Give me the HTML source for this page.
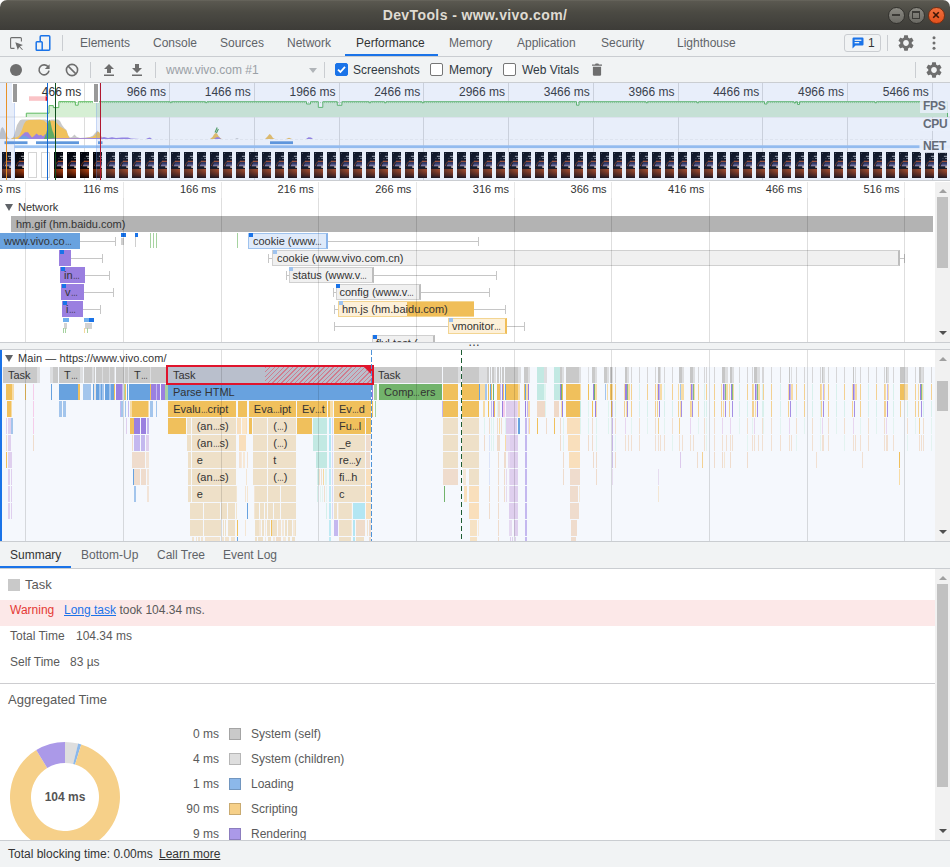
<!DOCTYPE html>
<html><head><meta charset="utf-8"><title>DevTools - www.vivo.com/</title>
<style>
*{box-sizing:border-box;margin:0;padding:0}
html,body{width:950px;height:867px;overflow:hidden;background:#fff}
body{font-family:"Liberation Sans",sans-serif;font-size:12px;color:#303942;position:relative}
.a{position:absolute}
.a>span,.lb{white-space:nowrap}
#titlebar{left:0;top:0;width:950px;height:30px;background:linear-gradient(#6a685f 0,#5a5850 1.5px,#4b4a43 40%,#3d3c38 100%);border-radius:7px 7px 0 0}
#titlebar .t{position:absolute;left:0;width:950px;top:7px;text-align:center;color:#dfdbd2;font-weight:bold;font-size:14px;letter-spacing:.4px}
.wb{position:absolute;top:6.5px;width:17px;height:17px;border-radius:50%;background:linear-gradient(#8a8982,#6a6963);border:1px solid #33322e}
#tabbar{left:0;top:30px;width:950px;height:27px;background:#f1f3f4;border-bottom:1px solid #cacdd1}
.tab{position:absolute;top:36px;font-size:12px;color:#5f6368;white-space:nowrap;line-height:14px}
#toolbar{left:0;top:57px;width:950px;height:26px;background:#f1f3f4;border-bottom:1px solid #cacdd1}
.vsep{position:absolute;width:1px;background:#cacdd1}
.tl{position:absolute;font-size:12px;line-height:14px;white-space:nowrap;color:#303942}
.cb{position:absolute;width:13px;height:13px;border:1px solid #767676;border-radius:2px;background:#fff}
svg{position:absolute;overflow:visible}

#ov{left:0;top:83px;width:950px;height:98px;background:#fff;border-bottom:1px solid #cacdd1;overflow:hidden}
.ovl{position:absolute;top:2px;font-size:12px;line-height:14px;color:#333;white-space:nowrap;text-align:right;width:60px}
.ovlab{position:absolute;font-size:12px;line-height:12px;color:#656c78;font-weight:bold;background:rgba(233,239,250,.85);padding:0 2px 0 3px;left:920px;width:30px;letter-spacing:-.3px}

#ruler{left:0;top:182px;width:935px;height:16px;background:#fff;overflow:hidden}
.rl{position:absolute;top:-0.5px;font-size:11px;line-height:14px;color:#333;white-space:nowrap;text-align:right;width:60px}
#net{left:0;top:198px;width:935px;height:144px;background:#fff;overflow:hidden}
.nb{position:absolute;height:16px;font-size:11px;line-height:17px;color:#333;white-space:nowrap;overflow:hidden;padding-left:5px}
.wh{position:absolute;height:1px;background:#c6c6c6}
.wt{position:absolute;width:1px;height:9px;background:#c6c6c6}
.pr{position:absolute;width:4px;height:4px}
.sb{position:absolute;left:935px;width:15px;background:#f1f1f1}
.sbt{position:absolute;left:2px;width:11px;background:#c1c1c1}
.gl{position:absolute;width:1px;background:rgba(0,0,0,.13)}
#rsz{left:0;top:342px;width:950px;height:8px;background:#f1f3f4;border-top:1px solid #cacdd1;border-bottom:1px solid #cacdd1}

#main{left:0;top:350px;width:935px;height:191px;background:#f5f8fd;overflow:hidden}
#main .hd{position:absolute;left:0;top:0;width:935px;height:17px;background:#fff}
.b{position:absolute;height:16px;font-size:11px;line-height:17px;color:#333;white-space:nowrap;overflow:hidden;padding-left:5px}
.e{display:inline-block;width:6.8px;transform:scaleX(.62);transform-origin:0 50%}

#stabs{left:0;top:541px;width:950px;height:28px;background:#f1f3f4;border-top:1px solid #cacdd1;border-bottom:1px solid #cacdd1}
.st{position:absolute;top:548px;font-size:12px;line-height:14px;color:#5f6368;white-space:nowrap}
#foot{left:0;top:840px;width:950px;height:27px;background:#f1f3f4;border-top:1px solid #cacdd1}
.sm{position:absolute;font-size:12px;line-height:14px;white-space:nowrap;color:#5a5a5a}
.sw{position:absolute;width:12px;height:12px;border:1px solid rgba(0,0,0,.18)}
</style></head><body>
<div id="titlebar" class="a"><div class="t">DevTools - www.vivo.com/</div>
<div class="wb" style="left:888px"><i class="a" style="left:3px;top:6px;width:8px;height:2px;background:#3b3a36"></i></div>
<div class="wb" style="left:908px"><i class="a" style="left:3px;top:3px;width:8px;height:8px;border:1px solid #3b3a36;border-top-width:2px"></i></div>
<div class="wb" style="left:928px;background:linear-gradient(#f0703e,#e2501c);border-color:#7a2d10"><svg width="14" height="14" style="left:0;top:0" viewBox="0 0 14 14"><path d="M4.2 4.2L9.8 9.8M9.8 4.2L4.2 9.8" stroke="#3b1608" stroke-width="1.6" fill="none"/></svg></div>
</div>
<div id="tabbar" class="a"></div>
<svg width="16" height="16" style="left:8px;top:35px" viewBox="0 0 16 16"><path d="M6.5 13.4H3.6Q2.6 13.4 2.6 12.4V3.6Q2.6 2.6 3.6 2.6H12.4Q13.4 2.6 13.4 3.6V6.5" fill="none" stroke="#6e6e6e" stroke-width="1.1"/><path d="M7.3 7.3L14.9 9.9L11.9 11.4L14.9 14.4L14.2 15.1L11.2 12.1L9.8 15Z" fill="#6e6e6e"/></svg>
<svg width="16" height="16" style="left:35px;top:35px" viewBox="0 0 16 16"><rect x="5.2" y="0.8" width="9.6" height="14.4" rx="1" fill="none" stroke="#1a73e8" stroke-width="1.5"/><rect x="1.2" y="6.8" width="6" height="8.4" rx="0.8" fill="#f1f3f4" stroke="#1a73e8" stroke-width="1.5"/></svg>
<div class="vsep" style="left:62px;top:35px;height:16px"></div>
<span class="tab" style="left:80px">Elements</span>
<span class="tab" style="left:153px">Console</span>
<span class="tab" style="left:220px">Sources</span>
<span class="tab" style="left:287px">Network</span>
<span class="tab" style="left:356px;color:#333">Performance</span>
<span class="tab" style="left:449px">Memory</span>
<span class="tab" style="left:517px">Application</span>
<span class="tab" style="left:601px">Security</span>
<span class="tab" style="left:677px">Lighthouse</span>
<div class="a" style="left:345px;top:54px;width:93px;height:2px;background:#1a73e8"></div>
<div class="a" style="left:844px;top:34px;width:37px;height:18px;border:1px solid #cacdd1;border-radius:3px;background:#f1f3f4"></div>
<svg width="12" height="12" style="left:852px;top:37px" viewBox="0 0 12 12"><path d="M1.6 0.5H10.4Q11.5 0.5 11.5 1.6V7.4Q11.5 8.5 10.4 8.5H3.5L0.5 11.5V1.6Q0.5 0.5 1.6 0.5Z" fill="#1a73e8"/><rect x="2.6" y="2.6" width="6.8" height="1.3" fill="#f1f3f4"/><rect x="2.6" y="5" width="4.6" height="1.3" fill="#f1f3f4"/></svg>
<span class="tl" style="left:868px;top:36px;color:#333">1</span>
<div class="vsep" style="left:887px;top:35px;height:16px"></div>
<svg width="16" height="16" style="left:898px;top:35px" viewBox="2 2 20 20"><path d="M19.14 12.94c.04-.3.06-.61.06-.94 0-.32-.02-.64-.07-.94l2.03-1.58c.18-.14.23-.41.12-.61l-1.92-3.32c-.12-.22-.37-.29-.59-.22l-2.39.96c-.5-.38-1.03-.7-1.62-.94l-.36-2.54c-.04-.24-.24-.41-.48-.41h-3.84c-.24 0-.43.17-.47.41l-.36 2.54c-.59.24-1.13.57-1.62.94l-2.39-.96c-.22-.08-.47 0-.59.22L2.74 8.87c-.12.21-.08.47.12.61l2.03 1.58c-.05.3-.09.63-.09.94s.02.64.07.94l-2.03 1.58c-.18.14-.23.41-.12.61l1.92 3.32c.12.22.37.29.59.22l2.39-.96c.5.38 1.03.7 1.62.94l.36 2.54c.05.24.24.41.48.41h3.84c.24 0 .44-.17.47-.41l.36-2.54c.59-.24 1.13-.56 1.62-.94l2.39.96c.22.08.47 0 .59-.22l1.92-3.32c.12-.22.07-.47-.12-.61l-2.01-1.58zM12 15.6c-1.98 0-3.6-1.62-3.6-3.6s1.62-3.6 3.6-3.6 3.6 1.62 3.6 3.6-1.62 3.6-3.6 3.6z" fill="#6e6e6e"/></svg>
<svg width="4" height="14" style="left:932px;top:36px" viewBox="0 0 4 14"><circle cx="2" cy="1.7" r="1.5" fill="#6e6e6e"/><circle cx="2" cy="7" r="1.5" fill="#6e6e6e"/><circle cx="2" cy="12.3" r="1.5" fill="#6e6e6e"/></svg>
<div id="toolbar" class="a"></div>
<div class="a" style="left:10px;top:64px;width:12px;height:12px;border-radius:50%;background:#6e6e6e"></div>
<svg width="14" height="14" style="left:37px;top:63px" viewBox="0 0 14 14"><path d="M11.3 4.2A5 5 0 1 0 12 7.6" fill="none" stroke="#6e6e6e" stroke-width="1.6"/><path d="M12.6 1.2V6H7.8Z" fill="#6e6e6e"/></svg>
<svg width="14" height="14" style="left:65px;top:63px" viewBox="0 0 14 14"><circle cx="7" cy="7" r="5.6" fill="none" stroke="#6e6e6e" stroke-width="1.6"/><path d="M3.1 3.1L10.9 10.9" stroke="#6e6e6e" stroke-width="1.6"/></svg>
<div class="vsep" style="left:90px;top:62px;height:16px"></div>
<svg width="12" height="12" style="left:103px;top:64px" viewBox="0 0 12 12"><path d="M6 0L11 5H8V9H4V5H1Z" fill="#6e6e6e"/><rect x="1" y="10.5" width="10" height="1.5" fill="#6e6e6e"/></svg>
<svg width="12" height="12" style="left:131px;top:64px" viewBox="0 0 12 12"><path d="M6 9L11 4H8V0H4V4H1Z" fill="#6e6e6e"/><rect x="1" y="10.5" width="10" height="1.5" fill="#6e6e6e"/></svg>
<div class="vsep" style="left:155px;top:62px;height:16px"></div>
<span class="tl" style="left:166px;top:63px;color:#9aa0a6">www.vivo.com #1</span>
<svg width="8" height="5" style="left:309px;top:68px" viewBox="0 0 8 5"><path d="M0 0H8L4 5Z" fill="#b0b4b8"/></svg>
<div class="vsep" style="left:324px;top:62px;height:16px"></div>
<div class="cb" style="left:335px;top:63px;background:#1a73e8;border-color:#1a73e8"><svg width="11" height="11" style="left:0;top:0" viewBox="0 0 11 11"><path d="M2 5.6L4.4 8L9 2.8" fill="none" stroke="#fff" stroke-width="1.8"/></svg></div>
<span class="tl" style="left:353px;top:63px">Screenshots</span>
<div class="cb" style="left:430px;top:63px"></div>
<span class="tl" style="left:449px;top:63px">Memory</span>
<div class="cb" style="left:503px;top:63px"></div>
<span class="tl" style="left:522px;top:63px">Web Vitals</span>
<svg width="10" height="13" style="left:592px;top:63px" viewBox="0 0 10 13"><path d="M0 1.4H3L3.7 0.4H6.3L7 1.4H10V2.8H0Z" fill="#6e6e6e"/><path d="M0.9 3.8H9.1V11.6Q9.1 12.8 7.9 12.8H2.1Q0.9 12.8 0.9 11.6Z" fill="#6e6e6e"/></svg>
<div class="vsep" style="left:915px;top:62px;height:16px"></div>
<svg width="16" height="16" style="left:926px;top:62px" viewBox="2 2 20 20"><path d="M19.14 12.94c.04-.3.06-.61.06-.94 0-.32-.02-.64-.07-.94l2.03-1.58c.18-.14.23-.41.12-.61l-1.92-3.32c-.12-.22-.37-.29-.59-.22l-2.39.96c-.5-.38-1.03-.7-1.62-.94l-.36-2.54c-.04-.24-.24-.41-.48-.41h-3.84c-.24 0-.43.17-.47.41l-.36 2.54c-.59.24-1.13.57-1.62.94l-2.39-.96c-.22-.08-.47 0-.59.22L2.74 8.87c-.12.21-.08.47.12.61l2.03 1.58c-.05.3-.09.63-.09.94s.02.64.07.94l-2.03 1.58c-.18.14-.23.41-.12.61l1.92 3.32c.12.22.37.29.59.22l2.39-.96c.5.38 1.03.7 1.62.94l.36 2.54c.05.24.24.41.48.41h3.84c.24 0 .44-.17.47-.41l.36-2.54c.59-.24 1.13-.56 1.62-.94l2.39.96c.22.08.47 0 .59-.22l1.92-3.32c.12-.22.07-.47-.12-.61l-2.01-1.58zM12 15.6c-1.98 0-3.6-1.62-3.6-3.6s1.62-3.6 3.6-3.6 3.6 1.62 3.6 3.6-1.62 3.6-3.6 3.6z" fill="#6e6e6e"/></svg>
<div id="ov" class="a">
<svg width="950" height="98" style="left:0;top:0" viewBox="0 83 950 98"><defs><linearGradient id="tg" x1="0" y1="0" x2="0" y2="1"><stop offset="0" stop-color="#02040a"/><stop offset=".33" stop-color="#070a14"/><stop offset=".6" stop-color="#0e0a12"/><stop offset=".64" stop-color="#120a0c"/><stop offset=".655" stop-color="#b04410"/><stop offset=".76" stop-color="#96340c"/><stop offset=".9" stop-color="#541a06"/><stop offset="1" stop-color="#140303"/></linearGradient><linearGradient id="tsk" x1="0" y1="0" x2="0" y2="1"><stop offset="0" stop-color="#181c3c"/><stop offset=".5" stop-color="#3c3c68"/><stop offset=".8" stop-color="#8a7a98"/><stop offset="1" stop-color="#e0ccca"/></linearGradient><linearGradient id="tdk" x1="0" y1="0" x2="1" y2="0"><stop offset="0" stop-color="#000" stop-opacity=".42"/><stop offset="1" stop-color="#000" stop-opacity="0"/></linearGradient><pattern id="tp" x="2" y="152" width="13" height="26" patternUnits="userSpaceOnUse"><rect width="9" height="26" fill="url(#tg)"/><rect x="0" y="16.6" width="9" height="9.4" fill="url(#tdk)"/><path d="M4.2 10L9 10L9 14.5L2.6 14.5Z" fill="url(#tsk)"/><rect x="2" y="14.4" width="5.3" height="2.1" fill="#08080e"/><rect x="7.3" y="14.3" width="1.7" height="1.6" fill="#ecd2b8"/><rect x="4" y="8.8" width="5" height=".95" fill="#dc5f28"/><path d="M4.2 9.3Q1.6 11.4 1.4 14.4" stroke="#c8561f" stroke-width=".8" fill="none" stroke-dasharray="1 .5"/><rect x="5.9" y="3.8" width="3.1" height="1" fill="#fff" opacity=".68"/><rect x="4.5" y="5.9" width=".9" height="1" fill="#fff" opacity=".3"/><rect x="7.1" y="5.9" width="1.9" height="1" fill="#fff" opacity=".52"/><rect x="1" y="1.1" width=".8" height=".8" fill="#aab" opacity=".6"/><rect x="7.2" y="1.1" width=".8" height=".8" fill="#aab" opacity=".4"/></pattern></defs><rect x="84" y="83" width="1" height="98" fill="#dcdcdc"/><rect x="169" y="83" width="1" height="98" fill="#dcdcdc"/><rect x="254" y="83" width="1" height="98" fill="#dcdcdc"/><rect x="339" y="83" width="1" height="98" fill="#dcdcdc"/><rect x="423" y="83" width="1" height="98" fill="#dcdcdc"/><rect x="508" y="83" width="1" height="98" fill="#dcdcdc"/><rect x="593" y="83" width="1" height="98" fill="#dcdcdc"/><rect x="678" y="83" width="1" height="98" fill="#dcdcdc"/><rect x="762" y="83" width="1" height="98" fill="#dcdcdc"/><rect x="847" y="83" width="1" height="98" fill="#dcdcdc"/><rect x="932" y="83" width="1" height="98" fill="#dcdcdc"/><rect x="0" y="116.5" width="950" height="1" fill="#e4e4e4"/><path d="M26.3 117.0 L26.3 113.2 L49.0 113.2 L49.0 105.6 L53.3 105.6 L53.3 107.6 L58.8 107.6 L58.8 101.6 L75.4 101.7 L75.4 105.2 L78.2 105.2 L78.2 101.7 L170.2 101.7 L170.2 102.7 L171.4 102.7 L171.4 101.7 L205.5 101.7 L205.5 102.7 L207.0 102.7 L207.0 101.7 L306.5 101.7 L306.5 104.0 L310.5 104.0 L310.5 101.7 L318.3 101.7 L318.3 107.4 L322.8 107.4 L322.8 101.7 L337.3 101.7 L337.3 105.3 L341.9 105.3 L341.9 101.7 L369.2 101.7 L369.2 102.8 L370.6 102.8 L370.6 101.7 L384.5 101.7 L384.5 102.8 L386.0 102.8 L386.0 101.7 L422.0 101.7 L422.0 102.8 L423.6 102.8 L423.6 101.7 L576.5 101.7 L576.5 105.2 L579.0 105.2 L579.0 101.7 L646.0 101.7 L646.0 102.8 L647.4 102.8 L647.4 101.7 L697.0 101.7 L697.0 102.8 L698.6 102.8 L698.6 101.7 L764.5 101.7 L764.5 104.0 L767.0 104.0 L767.0 101.7 L794.0 101.7 L794.0 103.0 L795.5 103.0 L795.5 101.7 L797.5 101.7 L797.5 104.5 L799.5 104.5 L799.5 101.7 L875.0 101.7 L875.0 102.8 L876.4 102.8 L876.4 101.7 L947.5 101.7 L947.5 117.0 Z" fill="#d6efd4" stroke="none"/><path d="M26.3 117.0 L26.3 113.2 L49.0 113.2 L49.0 105.6 L53.3 105.6 L53.3 107.6 L58.8 107.6 L58.8 101.6 L75.4 101.7 L75.4 105.2 L78.2 105.2 L78.2 101.7 L170.2 101.7 L170.2 102.7 L171.4 102.7 L171.4 101.7 L205.5 101.7 L205.5 102.7 L207.0 102.7 L207.0 101.7 L306.5 101.7 L306.5 104.0 L310.5 104.0 L310.5 101.7 L318.3 101.7 L318.3 107.4 L322.8 107.4 L322.8 101.7 L337.3 101.7 L337.3 105.3 L341.9 105.3 L341.9 101.7 L369.2 101.7 L369.2 102.8 L370.6 102.8 L370.6 101.7 L384.5 101.7 L384.5 102.8 L386.0 102.8 L386.0 101.7 L422.0 101.7 L422.0 102.8 L423.6 102.8 L423.6 101.7 L576.5 101.7 L576.5 105.2 L579.0 105.2 L579.0 101.7 L646.0 101.7 L646.0 102.8 L647.4 102.8 L647.4 101.7 L697.0 101.7 L697.0 102.8 L698.6 102.8 L698.6 101.7 L764.5 101.7 L764.5 104.0 L767.0 104.0 L767.0 101.7 L794.0 101.7 L794.0 103.0 L795.5 103.0 L795.5 101.7 L797.5 101.7 L797.5 104.5 L799.5 104.5 L799.5 101.7 L875.0 101.7 L875.0 102.8 L876.4 102.8 L876.4 101.7 L947.5 101.7 L947.5 117.0" fill="none" stroke="#5fba62" stroke-width="1"/><path d="M60 102.6H920" fill="none" stroke="#5fba62" stroke-width="1" stroke-dasharray=".7 1.3" opacity=".75"/><path d="M0.0 139 L0.0 133.0 L1.0 128.5 L2.5 127.0 L4.0 129.0 L6.0 134.0 L8.0 138.0 L10.0 139.0 L13.0 138.0 L14.5 134.0 L17.0 125.0 L20.0 120.2 L22.0 119.4 L46.0 119.4 L48.0 121.0 L51.0 119.4 L58.0 119.6 L60.0 121.0 L62.0 125.0 L64.5 128.2 L66.5 130.0 L68.0 135.0 L70.0 137.5 L72.0 137.0 L74.5 134.5 L76.5 136.8 L80.0 138.0 L86.0 137.5 L90.0 137.0 L93.0 135.5 L95.0 133.0 L97.5 130.6 L99.5 134.0 L102.0 137.5 L106.0 138.5 L106.0 139 Z" fill="#c9c9c9"/><path d="M11.0 139 L11.0 139.0 L13.0 137.5 L16.0 137.5 L19.0 136.0 L21.5 131.0 L24.0 124.0 L26.0 121.0 L29.0 120.0 L40.0 119.8 L44.0 120.5 L46.5 123.0 L49.0 121.0 L53.0 120.6 L55.5 121.5 L57.5 124.0 L60.0 126.5 L62.5 128.0 L65.0 129.5 L66.5 131.0 L68.0 135.5 L69.5 138.0 L75.0 138.3 L85.0 138.0 L92.0 137.2 L95.0 135.2 L97.0 132.3 L99.0 131.8 L100.5 135.0 L102.0 138.0 L104.0 139.0 L104.0 139 Z" fill="#f0c15c"/><path d="M18.0 139 L18.0 139.0 L20.0 137.0 L22.5 134.5 L25.0 132.2 L28.0 132.3 L30.0 135.0 L32.0 137.4 L34.0 136.0 L36.5 133.6 L39.0 135.5 L41.0 134.8 L43.0 136.4 L45.0 134.5 L46.5 133.5 L48.0 139.0 L48.0 139 Z" fill="#9b82e3"/><path d="M19.0 139 L19.0 139.0 L21.0 137.0 L23.0 135.8 L26.0 136.0 L28.0 137.6 L30.0 139.0 L30.0 139 Z" fill="#6fa2e2"/><path d="M44.0 139 L44.0 139.0 L46.0 134.0 L47.5 128.0 L48.5 121.0 L49.5 119.6 L50.5 122.0 L51.5 127.0 L52.5 131.0 L53.5 133.0 L55.0 139.0 L55.0 139 Z" fill="#62ab63"/><path d="M48.0 139 L48.0 139.0 L55.0 138.2 L70.0 138.2 L100.0 138.0 L104.0 137.0 L108.0 138.0 L112.0 137.2 L116.0 138.0 L122.0 137.6 L128.0 137.4 L131.0 138.4 L140.0 139.0 L140.0 139 Z" fill="#9b82e3"/><path d="M146.0 139 L146.0 139.0 L148.0 138.0 L150.0 137.5 L152.0 139.0 L152.0 139 Z" fill="#9b82e3"/><path d="M210.0 139 L210.0 139.0 L212.5 137.0 L214.0 134.5 L215.5 133.0 L217.0 133.6 L218.5 136.0 L220.5 138.2 L222.0 139.0 L222.0 139 Z" fill="#f0c15c"/><path d="M214.0 139 L214.0 139.0 L216.0 137.6 L218.0 137.0 L220.0 138.0 L221.0 139.0 L221.0 139 Z" fill="#9b82e3"/><path d="M215 132.5L217.2 127.5M216.4 133L218.4 129" stroke="#4d9e55" stroke-width="1.1"/><path d="M265.0 139 L265.0 139.0 L267.5 136.5 L269.5 134.0 L271.0 135.0 L273.0 138.0 L275.0 139.0 L275.0 139 Z" fill="#f0c15c"/><path d="M286.0 139 L286.0 139.0 L289.0 137.8 L292.0 139.0 L292.0 139 Z" fill="#f0c15c"/><path d="M306.0 139 L306.0 139.0 L308.5 137.3 L311.0 137.6 L313.0 139.0 L313.0 139 Z" fill="#9b82e3"/><path d="M235.0 139 L235.0 139.0 L237.0 138.0 L239.0 139.0 L239.0 139 Z" fill="#c9c9c9"/><path d="M100 139.5H934" stroke="#c8c8c8" stroke-width="1" stroke-dasharray="3 2" opacity=".2"/><rect x="4.5" y="141.3" width="23" height="2.8" fill="#5f98dc"/><rect x="36" y="141.3" width="43" height="2.8" fill="#5f98dc"/><rect x="98" y="141.3" width="4.5" height="2.8" fill="#5f98dc"/><rect x="270" y="141.3" width="23" height="2.8" fill="#5f98dc"/><rect x="14.5" y="145.3" width="904.5" height="2.8" fill="#9cc3f3"/><rect x="919" y="145.3" width="31" height="2.8" fill="#9cc3f3" opacity=".5"/><rect x="2" y="152" width="946" height="26" fill="url(#tp)"/><rect x="27" y="151.5" width="10" height="27" fill="#fff"/><rect x="28.5" y="152.5" width="8" height="25" fill="#fff" stroke="#d4d4d4" stroke-width="1"/><rect x="40" y="151.5" width="10" height="27" fill="#fff"/><rect x="41.5" y="152.5" width="8" height="25" fill="#fff" stroke="#d4d4d4" stroke-width="1"/><rect x="29" y="96.3" width="17" height="4.5" fill="#fac3c6"/><rect x="45.6" y="96.3" width="1.4" height="4.5" fill="#e8102a"/></svg>
<span class="ovl" style="left:21.2px">466 ms</span>
<span class="ovl" style="left:106.0px">966 ms</span>
<span class="ovl" style="left:190.8px">1466 ms</span>
<span class="ovl" style="left:275.5px">1966 ms</span>
<span class="ovl" style="left:360.2px">2466 ms</span>
<span class="ovl" style="left:445.0px">2966 ms</span>
<span class="ovl" style="left:529.8px">3466 ms</span>
<span class="ovl" style="left:614.5px">3966 ms</span>
<span class="ovl" style="left:699.2px">4466 ms</span>
<span class="ovl" style="left:784.0px">4966 ms</span>
<span class="ovl" style="left:868.8px">5466 ms</span>
<div class="a" style="left:0;top:0;width:14.5px;height:98px;background:rgba(102,142,222,.15);border-right:1px solid rgba(120,160,235,.3)"></div>
<div class="a" style="left:96px;top:0;width:854px;height:98px;background:rgba(102,142,222,.15);border-left:1px solid rgba(120,160,235,.3)"></div>
<div class="a" style="left:12px;top:0px;width:6px;height:20px;background:#fff"></div><div class="a" style="left:13px;top:1px;width:4px;height:18px;background:#999"></div>
<div class="a" style="left:93px;top:0px;width:6px;height:20px;background:#fff"></div><div class="a" style="left:94px;top:1px;width:4px;height:18px;background:#999"></div>
<div class="a" style="left:6px;top:0;width:1px;height:98px;background:#e8922a"></div>
<div class="a" style="left:47px;top:0;width:1px;height:98px;background:#1468d2"></div>
<div class="a" style="left:55px;top:0;width:1px;height:98px;background:#114f1f"></div>
<div class="a" style="left:100px;top:0;width:1px;height:98px;background:#b01830"></div>
<span class="ovlab" style="top:17px;height:13px">FPS</span>
<span class="ovlab" style="top:35px;height:13px">CPU</span>
<span class="ovlab" style="top:57px;height:13px">NET</span>
</div>
<div id="ruler" class="a">
<span class="rl" style="left:-39.3px">66 ms</span>
<span class="rl" style="left:58.4px">116 ms</span>
<span class="rl" style="left:156.0px">166 ms</span>
<span class="rl" style="left:253.7px">216 ms</span>
<span class="rl" style="left:351.3px">266 ms</span>
<span class="rl" style="left:448.9px">316 ms</span>
<span class="rl" style="left:546.6px">366 ms</span>
<span class="rl" style="left:644.2px">416 ms</span>
<span class="rl" style="left:741.9px">466 ms</span>
<span class="rl" style="left:839.5px">516 ms</span>
<div class="gl" style="left:25px;top:0px;height:16px;background:rgba(0,0,0,.09)"></div><div class="gl" style="left:123px;top:0px;height:16px;background:rgba(0,0,0,.09)"></div><div class="gl" style="left:221px;top:0px;height:16px;background:rgba(0,0,0,.09)"></div><div class="gl" style="left:318px;top:0px;height:16px;background:rgba(0,0,0,.09)"></div><div class="gl" style="left:416px;top:0px;height:16px;background:rgba(0,0,0,.09)"></div><div class="gl" style="left:514px;top:0px;height:16px;background:rgba(0,0,0,.09)"></div><div class="gl" style="left:611px;top:0px;height:16px;background:rgba(0,0,0,.09)"></div><div class="gl" style="left:709px;top:0px;height:16px;background:rgba(0,0,0,.09)"></div><div class="gl" style="left:807px;top:0px;height:16px;background:rgba(0,0,0,.09)"></div><div class="gl" style="left:904px;top:0px;height:16px;background:rgba(0,0,0,.09)"></div>
</div>
<div id="net" class="a">
<svg width="8" height="7" style="left:5px;top:6px" viewBox="0 0 8 7"><path d="M0 0H8L4 7Z" fill="#5f6368"/></svg>
<span class="tl" style="left:18px;top:2px;color:#333;font-size:11px">Network</span>
<div class="nb" style="left:11px;top:18px;width:922px;background:#b3b3b3">hm.gif (hm.baidu.com)</div>
<div class="wh" style="left:80.0px;top:43.0px;width:34.5px"></div><div class="wt" style="left:114.5px;top:39.0px"></div>
<div class="nb" style="left:0;top:35px;width:80px;background:#69a2df;padding-left:4px">www.vivo.co<span class="e">…</span></div>
<div class="a" style="left:120.5px;top:35px;width:5.5px;height:4px;background:#1a73e8"></div><div class="a" style="left:121px;top:40px;width:3px;height:7px;background:#cfcfcf"></div>
<div class="a" style="left:134.5px;top:35px;width:3.5px;height:4px;background:#1a73e8"></div><div class="a" style="left:134.5px;top:39px;width:1px;height:10px;background:#cfcfcf"></div>
<div class="a" style="left:150px;top:35px;width:1px;height:15px;background:#a6d3a0"></div>
<div class="a" style="left:153px;top:35px;width:1px;height:15px;background:#a6d3a0"></div>
<div class="a" style="left:156px;top:35px;width:1px;height:15px;background:#a6d3a0"></div>
<div class="a" style="left:237px;top:35px;width:1px;height:15px;background:#a6d3a0"></div>
<div class="wh" style="left:70.8px;top:60.0px;width:30.9px"></div><div class="wt" style="left:101.7px;top:56.0px"></div>
<div class="nb" style="left:59.2px;top:52px;width:11.6px;background:#9a7fe0;padding-left:4px"></div>
<div class="pr" style="left:59.7px;top:52px;background:#1a73e8"></div>
<div class="wh" style="left:84.8px;top:77.0px;width:23.9px"></div><div class="wt" style="left:108.7px;top:73.0px"></div>
<div class="nb" style="left:60.0px;top:69px;width:24.8px;background:#9a7fe0;padding-left:4px">in<span class="e">…</span></div>
<div class="pr" style="left:60.5px;top:69px;background:#1a73e8"></div>
<div class="wh" style="left:83.9px;top:94.0px;width:28.9px"></div><div class="wt" style="left:112.8px;top:90.0px"></div>
<div class="nb" style="left:61.0px;top:86px;width:22.9px;background:#9a7fe0;padding-left:4px">v<span class="e">…</span></div>
<div class="pr" style="left:61.5px;top:86px;background:#1a73e8"></div>
<div class="wh" style="left:82.9px;top:111.0px;width:16.9px"></div><div class="wt" style="left:99.8px;top:107.0px"></div>
<div class="nb" style="left:62.1px;top:103px;width:20.8px;background:#9a7fe0;padding-left:4px">i<span class="e">…</span></div>
<div class="pr" style="left:62.6px;top:103px;background:#1a73e8"></div>
<div class="a" style="left:63.2px;top:120px;width:6px;height:3.5px;background:#6fb0ee"></div><div class="a" style="left:63.5px;top:125px;width:3px;height:6px;background:#d2d2d2"></div><div class="a" style="left:63.3px;top:130px;width:1px;height:5px;background:#a6d3a0"></div><div class="a" style="left:65.3px;top:130px;width:1px;height:5px;background:#a6d3a0"></div>
<div class="a" style="left:84.3px;top:120px;width:5px;height:3.5px;background:#6fb0ee"></div><div class="a" style="left:88.5px;top:120px;width:5.5px;height:3.5px;background:#1a73e8"></div><div class="a" style="left:84.5px;top:125px;width:7.5px;height:6px;background:#d2d2d2"></div><div class="a" style="left:84.3px;top:130px;width:1px;height:5px;background:#f3d79b"></div><div class="a" style="left:87.3px;top:130px;width:1px;height:5px;background:#a6d3a0"></div>
<div class="wh" style="left:327.0px;top:43.0px;width:151.0px"></div><div class="wt" style="left:478.0px;top:39.0px"></div>
<div class="nb" style="left:248px;top:35px;width:79.5px;background:#dfeafa;border:1px solid #9fc3ee;border-right:2px solid #8ab4ea;line-height:15px;padding-left:4px">cookie (www<span class="e">…</span></div>
<div class="pr" style="left:248.5px;top:35px;background:#1a73e8"></div>
<div class="wh" style="left:268.0px;top:60.0px;width:4.0px"></div><div class="wt" style="left:268.0px;top:56.0px"></div>
<div class="wh" style="left:899.0px;top:60.0px;width:4.5px"></div><div class="wt" style="left:903.5px;top:56.0px"></div>
<div class="nb" style="left:272px;top:52px;width:627.5px;background:#f0f0f0;border:1px solid #d0d0d0;border-right:2px solid #bdbdbd;line-height:15px;padding-left:4px">cookie (www.vivo.com.cn)</div>
<div class="pr" style="left:272.5px;top:52px;background:#9fc3ee"></div>
<div class="wh" style="left:286.0px;top:77.0px;width:2.5px"></div><div class="wt" style="left:286.0px;top:73.0px"></div>
<div class="wh" style="left:373.5px;top:77.0px;width:122.0px"></div><div class="wt" style="left:495.5px;top:73.0px"></div>
<div class="nb" style="left:288.5px;top:69px;width:85px;background:#f0f0f0;border:1px solid #d0d0d0;border-right:2px solid #bdbdbd;line-height:15px;padding-left:3px">status (www.v<span class="e">…</span></div>
<div class="pr" style="left:289px;top:69px;background:#9fc3ee"></div>
<div class="wh" style="left:332.5px;top:94.0px;width:3.0px"></div><div class="wt" style="left:332.5px;top:90.0px"></div>
<div class="wh" style="left:420.5px;top:94.0px;width:68.0px"></div><div class="wt" style="left:488.5px;top:90.0px"></div>
<div class="nb" style="left:335.5px;top:86px;width:85px;background:#f0f0f0;border:1px solid #d0d0d0;border-right:2px solid #bdbdbd;line-height:15px;padding-left:3px">config (www.v<span class="e">…</span></div>
<div class="pr" style="left:336px;top:86px;background:#1a73e8"></div>
<div class="wh" style="left:333.5px;top:111.0px;width:4.5px"></div><div class="wt" style="left:333.5px;top:107.0px"></div>
<div class="wh" style="left:474.0px;top:111.0px;width:30.5px"></div><div class="wt" style="left:504.5px;top:107.0px"></div>
<div class="nb" style="left:338px;top:103px;width:136px;background:linear-gradient(90deg,#fdf0d8 0,#fdf0d8 68.5px,#f0be58 68.5px);border:1px solid #f3d592;border-right:0;line-height:15px;padding-left:3px">hm.js (hm.baidu.com)</div>
<div class="pr" style="left:338.5px;top:103px;background:#9fc3ee"></div>
<div class="wh" style="left:333.5px;top:128.0px;width:114.5px"></div><div class="wt" style="left:333.5px;top:124.0px"></div>
<div class="wh" style="left:507.0px;top:128.0px;width:16.5px"></div><div class="wt" style="left:523.5px;top:124.0px"></div>
<div class="nb" style="left:448px;top:120px;width:59px;background:#fdf0d8;border:1px solid #f3d592;border-right:2px solid #f0be58;line-height:15px;padding-left:3px">vmonitor<span class="e">…</span></div>
<div class="pr" style="left:448.5px;top:120px;background:#9fc3ee"></div>
<div class="wh" style="left:365.0px;top:145.0px;width:7.0px"></div>
<div class="wh" style="left:435.0px;top:145.0px;width:56.0px"></div>
<div class="nb" style="left:372px;top:137px;width:62.5px;background:#f0f0f0;border:1px solid #d0d0d0;border-right:2px solid #bdbdbd;line-height:15px;padding-left:3px">fly! test (<span class="e">…</span></div>
<div class="pr" style="left:372.5px;top:137px;background:#1a73e8"></div>
<div class="gl" style="left:25px;top:0px;height:144px"></div><div class="gl" style="left:123px;top:0px;height:144px"></div><div class="gl" style="left:221px;top:0px;height:144px"></div><div class="gl" style="left:318px;top:0px;height:144px"></div><div class="gl" style="left:416px;top:0px;height:144px"></div><div class="gl" style="left:514px;top:0px;height:144px"></div><div class="gl" style="left:611px;top:0px;height:144px"></div><div class="gl" style="left:709px;top:0px;height:144px"></div><div class="gl" style="left:807px;top:0px;height:144px"></div><div class="gl" style="left:904px;top:0px;height:144px"></div>
</div>
<div class="sb" style="top:182px;height:160px"><div class="sbt" style="top:15px;height:71px"></div><svg width="8" height="4" style="left:4px;top:7px" viewBox="0 0 8 4"><path d="M0 4L4 0L8 4Z" fill="#a0a0a0"/></svg><svg width="8" height="4" style="left:4px;top:149px" viewBox="0 0 8 4"><path d="M0 0L4 4L8 0Z" fill="#505050"/></svg></div>
<div id="rsz" class="a"><span class="a" style="left:468px;top:-7px;font-size:12px;line-height:12px;color:#333;letter-spacing:0px">…</span></div>
<div id="main" class="a"><div class="hd"></div>
<svg width="8" height="7" style="left:5px;top:5px" viewBox="0 0 8 7"><path d="M0 0H8L4 7Z" fill="#5f6368"/></svg>
<span class="tl" style="left:18px;top:1px;color:#333;font-size:11px;letter-spacing:.07px">Main — https://www.vivo.com/</span>
<div class="b" style="left:3.0px;top:17px;width:34.0px;height:16px;background:#c9c9c9"> Task</div><i class="a" style="left:37.0px;top:17px;width:3.0px;height:16px;background:#dddee0"></i><i class="a" style="left:50.0px;top:17px;width:2.5px;height:16px;background:#dddee0"></i><i class="a" style="left:52.5px;top:17px;width:5.5px;height:16px;background:#c9c9c9"></i><div class="b" style="left:59.0px;top:17px;width:20.6px;height:16px;background:#c9c9c9">T<span class="e">…</span></div><i class="a" style="left:79.6px;top:17px;width:3.4px;height:16px;background:#dddee0"></i><i class="a" style="left:84.0px;top:17px;width:8.2px;height:16px;background:#c9c9c9"></i><i class="a" style="left:92.2px;top:17px;width:1.8px;height:16px;background:#dddee0"></i><i class="a" style="left:94.2px;top:17px;width:0.7px;height:16px;background:#c9c9c9"></i><i class="a" style="left:96.0px;top:17px;width:3.5px;height:16px;background:#c9c9c9"></i><i class="a" style="left:99.5px;top:17px;width:0.5px;height:16px;background:#dddee0"></i><i class="a" style="left:100.0px;top:17px;width:2.3px;height:16px;background:#c9c9c9"></i><i class="a" style="left:102.3px;top:17px;width:0.7px;height:16px;background:#dddee0"></i><i class="a" style="left:103.0px;top:17px;width:6.3px;height:16px;background:#c9c9c9"></i><i class="a" style="left:109.3px;top:17px;width:0.7px;height:16px;background:#dddee0"></i><i class="a" style="left:110.0px;top:17px;width:3.5px;height:16px;background:#c9c9c9"></i><i class="a" style="left:113.5px;top:17px;width:1.1px;height:16px;background:#dddee0"></i><i class="a" style="left:116.0px;top:17px;width:7.7px;height:16px;background:#c9c9c9"></i><i class="a" style="left:123.7px;top:17px;width:0.8px;height:16px;background:#dddee0"></i><i class="a" style="left:124.5px;top:17px;width:3.5px;height:16px;background:#c9c9c9"></i><i class="a" style="left:128.0px;top:17px;width:1.0px;height:16px;background:#dddee0"></i><div class="b" style="left:129.0px;top:17px;width:21.0px;height:16px;background:#c9c9c9">T<span class="e">…</span></div><i class="a" style="left:150.0px;top:17px;width:1.0px;height:16px;background:#dddee0"></i><i class="a" style="left:151.0px;top:17px;width:14.5px;height:16px;background:#c9c9c9"></i><i class="a" style="left:6.0px;top:34px;width:5.5px;height:16px;background:#f0c05c"></i><i class="a" style="left:11.5px;top:34px;width:1.0px;height:16px;background:#f7dca6"></i><i class="a" style="left:13.2px;top:34px;width:1.0px;height:16px;background:#f7dca6"></i><i class="a" style="left:24.8px;top:34px;width:1.0px;height:16px;background:#f0c05c"></i><i class="a" style="left:33.0px;top:34px;width:0.8px;height:16px;background:#f5cdea"></i><i class="a" style="left:51.0px;top:34px;width:1.0px;height:16px;background:#68a2df"></i><i class="a" style="left:59.0px;top:34px;width:18.5px;height:16px;background:#68a2df"></i><i class="a" style="left:77.5px;top:34px;width:2.0px;height:16px;background:#f0c05c"></i><i class="a" style="left:83.0px;top:34px;width:8.0px;height:16px;background:#a3c5ec"></i><i class="a" style="left:93.3px;top:34px;width:0.7px;height:16px;background:#68a2df"></i><i class="a" style="left:94.3px;top:34px;width:1.7px;height:16px;background:#e4e4e6"></i><i class="a" style="left:96.3px;top:34px;width:2.7px;height:16px;background:#68a2df"></i><i class="a" style="left:99.0px;top:34px;width:1.5px;height:16px;background:#a3c5ec"></i><i class="a" style="left:100.5px;top:34px;width:1.5px;height:16px;background:#68a2df"></i><i class="a" style="left:102.0px;top:34px;width:2.0px;height:16px;background:#a3c5ec"></i><i class="a" style="left:105.0px;top:34px;width:4.0px;height:16px;background:#68a2df"></i><i class="a" style="left:109.0px;top:34px;width:2.0px;height:16px;background:#a3c5ec"></i><i class="a" style="left:111.0px;top:34px;width:2.5px;height:16px;background:#68a2df"></i><i class="a" style="left:114.0px;top:34px;width:0.9px;height:16px;background:#f0c05c"></i><i class="a" style="left:116.0px;top:34px;width:6.0px;height:16px;background:#9a80e0"></i><i class="a" style="left:122.0px;top:34px;width:1.0px;height:16px;background:#c4b8ef"></i><i class="a" style="left:123.8px;top:34px;width:0.8px;height:16px;background:#a9d1a3"></i><i class="a" style="left:124.8px;top:34px;width:1.7px;height:16px;background:#f0c05c"></i><i class="a" style="left:127.2px;top:34px;width:0.7px;height:16px;background:#68a2df"></i><i class="a" style="left:128.7px;top:34px;width:20.9px;height:16px;background:#68a2df"></i><i class="a" style="left:150.0px;top:34px;width:0.8px;height:16px;background:#f0c05c"></i><i class="a" style="left:151.2px;top:34px;width:4.8px;height:16px;background:#9a80e0"></i><i class="a" style="left:156.0px;top:34px;width:1.0px;height:16px;background:#c4b8ef"></i><i class="a" style="left:157.0px;top:34px;width:3.2px;height:16px;background:#9a80e0"></i><i class="a" style="left:161.0px;top:34px;width:3.6px;height:16px;background:#9a80e0"></i><i class="a" style="left:165.0px;top:34px;width:3.0px;height:16px;background:#a9d1a3"></i><i class="a" style="left:6.5px;top:51px;width:4.3px;height:16px;background:#f0c05c"></i><i class="a" style="left:10.8px;top:51px;width:1.2px;height:16px;background:#f7dca6"></i><i class="a" style="left:33.0px;top:51px;width:0.8px;height:16px;background:#f5cdea"></i><i class="a" style="left:59.0px;top:51px;width:2.8px;height:16px;background:#a3c5ec"></i><i class="a" style="left:63.0px;top:51px;width:3.0px;height:16px;background:#a3c5ec"></i><i class="a" style="left:120.0px;top:51px;width:1.4px;height:16px;background:#c4b8ef"></i><i class="a" style="left:121.4px;top:51px;width:1.2px;height:16px;background:#a3c5ec"></i><i class="a" style="left:125.0px;top:51px;width:0.7px;height:16px;background:#a3c5ec"></i><i class="a" style="left:127.8px;top:51px;width:0.8px;height:16px;background:#c4b8ef"></i><i class="a" style="left:129.6px;top:51px;width:2.4px;height:16px;background:#f7dca6"></i><i class="a" style="left:132.0px;top:51px;width:15.8px;height:16px;background:#f0c05c"></i><i class="a" style="left:147.8px;top:51px;width:0.8px;height:16px;background:#f7dca6"></i><i class="a" style="left:150.0px;top:51px;width:3.0px;height:16px;background:#a3c5ec"></i><i class="a" style="left:156.0px;top:51px;width:0.8px;height:16px;background:#a3c5ec"></i><i class="a" style="left:168.0px;top:51px;width:1.4px;height:16px;background:#f0c05c"></i><i class="a" style="left:6.0px;top:68px;width:0.7px;height:16px;background:#dfcfee"></i><i class="a" style="left:8.0px;top:68px;width:2.5px;height:16px;background:#dfcfee"></i><i class="a" style="left:11.0px;top:68px;width:1.5px;height:16px;background:#a3c5ec"></i><i class="a" style="left:33.0px;top:68px;width:0.8px;height:16px;background:#f5cdea"></i><i class="a" style="left:126.0px;top:68px;width:0.7px;height:16px;background:#dfcfee"></i><i class="a" style="left:130.0px;top:68px;width:3.5px;height:16px;background:#f0c05c"></i><i class="a" style="left:134.2px;top:68px;width:6.3px;height:16px;background:#9a80e0"></i><i class="a" style="left:140.9px;top:68px;width:4.9px;height:16px;background:#9a80e0"></i><i class="a" style="left:146.5px;top:68px;width:2.0px;height:16px;background:#c4b8ef"></i><i class="a" style="left:6.0px;top:85px;width:0.7px;height:16px;background:#efdccd"></i><i class="a" style="left:8.0px;top:85px;width:2.5px;height:16px;background:#dfcfee"></i><i class="a" style="left:33.0px;top:85px;width:0.8px;height:16px;background:#efdccd"></i><i class="a" style="left:132.4px;top:85px;width:0.8px;height:16px;background:#efdccd"></i><i class="a" style="left:134.2px;top:85px;width:6.0px;height:16px;background:#c4b8ef"></i><i class="a" style="left:140.6px;top:85px;width:4.8px;height:16px;background:#c4b8ef"></i><i class="a" style="left:146.0px;top:85px;width:2.6px;height:16px;background:#dfcfee"></i><i class="a" style="left:6.0px;top:102px;width:0.8px;height:16px;background:#f0c05c"></i><i class="a" style="left:8.0px;top:102px;width:4.0px;height:16px;background:#dfcfee"></i><i class="a" style="left:132.0px;top:102px;width:8.5px;height:16px;background:#efdccd"></i><i class="a" style="left:140.9px;top:102px;width:4.6px;height:16px;background:#efdccd"></i><i class="a" style="left:146.0px;top:102px;width:3.0px;height:16px;background:#f2e4d8"></i><i class="a" style="left:8.0px;top:119px;width:1.6px;height:16px;background:#dfcfee"></i><i class="a" style="left:11.0px;top:119px;width:1.0px;height:16px;background:#dfcfee"></i><i class="a" style="left:133.0px;top:119px;width:0.8px;height:16px;background:#68a2df"></i><i class="a" style="left:134.2px;top:119px;width:6.3px;height:16px;background:#efdccd"></i><i class="a" style="left:140.9px;top:119px;width:4.7px;height:16px;background:#efdccd"></i><i class="a" style="left:147.0px;top:119px;width:2.0px;height:16px;background:#f2e4d8"></i><i class="a" style="left:8.0px;top:136px;width:1.6px;height:16px;background:#dfcfee"></i><i class="a" style="left:11.0px;top:136px;width:1.0px;height:16px;background:#dfcfee"></i><i class="a" style="left:134.0px;top:136px;width:2.0px;height:16px;background:#a3c5ec"></i><i class="a" style="left:147.0px;top:136px;width:2.0px;height:16px;background:#f2e4d8"></i><i class="a" style="left:8.0px;top:153px;width:1.6px;height:16px;background:#dfcfee"></i><i class="a" style="left:11.0px;top:153px;width:1.0px;height:16px;background:#dfcfee"></i><div class="b" style="left:168.0px;top:34px;width:202.8px;height:16px;background:#68a2df">Parse HTML</div><i class="a" style="left:372.3px;top:34px;width:1.2px;height:16px;background:#9a80e0"></i><i class="a" style="left:374.0px;top:34px;width:2.6px;height:16px;background:#a9d1a3"></i><i class="a" style="left:372.3px;top:51px;width:0.7px;height:16px;background:#f0c05c"></i><i class="a" style="left:375.0px;top:51px;width:0.8px;height:16px;background:#a9d1a3"></i><div class="b" style="left:168.2px;top:51px;width:67.9px;height:16px;background:#f0c05c">Evalu<span class="e">…</span>cript</div><i class="a" style="left:237.8px;top:51px;width:9.2px;height:16px;background:#f0c05c"></i><div class="b" style="left:248.8px;top:51px;width:47.2px;height:16px;background:#f0c05c">Eva<span class="e">…</span>ipt</div><div class="b" style="left:297.0px;top:51px;width:29.7px;height:16px;background:#f0c05c">Ev<span class="e">…</span>t</div><i class="a" style="left:328.0px;top:51px;width:2.0px;height:16px;background:#f0c05c"></i><i class="a" style="left:330.0px;top:51px;width:3.0px;height:16px;background:#f7dca6"></i><div class="b" style="left:334.0px;top:51px;width:36.8px;height:16px;background:#f0c05c">Ev<span class="e">…</span>d</div><i class="a" style="left:168.2px;top:68px;width:17.8px;height:16px;background:#f0c05c"></i><i class="a" style="left:187.3px;top:68px;width:3.3px;height:16px;background:#eee0c8"></i><div class="b" style="left:191.7px;top:68px;width:44.4px;height:16px;background:#eee0c8">(an<span class="e">…</span>s)</div><i class="a" style="left:187.3px;top:85px;width:3.3px;height:16px;background:#eee0c8"></i><div class="b" style="left:191.7px;top:85px;width:44.4px;height:16px;background:#eee0c8">(an<span class="e">…</span>s)</div><i class="a" style="left:188.2px;top:102px;width:2.8px;height:16px;background:#eee0c8"></i><div class="b" style="left:191.7px;top:102px;width:44.4px;height:16px;background:#eee0c8">e</div><i class="a" style="left:188.2px;top:119px;width:2.8px;height:16px;background:#eee0c8"></i><div class="b" style="left:191.7px;top:119px;width:44.4px;height:16px;background:#eee0c8">(an<span class="e">…</span>s)</div><i class="a" style="left:188.2px;top:136px;width:2.8px;height:16px;background:#eee0c8"></i><div class="b" style="left:191.7px;top:136px;width:43.9px;height:16px;background:#eee0c8">e</div><i class="a" style="left:236.3px;top:136px;width:1.2px;height:16px;background:#f2e6d2"></i><i class="a" style="left:190.2px;top:153px;width:12.8px;height:16px;background:#eee0c8"></i><i class="a" style="left:203.8px;top:153px;width:16.7px;height:16px;background:#eee0c8"></i><i class="a" style="left:221.3px;top:153px;width:5.9px;height:16px;background:#eee0c8"></i><i class="a" style="left:228.0px;top:153px;width:7.4px;height:16px;background:#eee0c8"></i><i class="a" style="left:236.3px;top:153px;width:1.0px;height:16px;background:#f2e6d2"></i><i class="a" style="left:190.2px;top:170px;width:12.8px;height:16px;background:#eee0c8"></i><i class="a" style="left:203.8px;top:170px;width:17.2px;height:16px;background:#eee0c8"></i><i class="a" style="left:222.5px;top:170px;width:1.0px;height:16px;background:#eee0c8"></i><i class="a" style="left:224.5px;top:170px;width:1.5px;height:16px;background:#eee0c8"></i><i class="a" style="left:228.0px;top:170px;width:7.4px;height:16px;background:#eee0c8"></i><i class="a" style="left:237.0px;top:170px;width:0.8px;height:16px;background:#f0c05c"></i><i class="a" style="left:191.5px;top:187px;width:2.5px;height:4px;background:#f1e3cf"></i><i class="a" style="left:195.5px;top:187px;width:1.0px;height:4px;background:#f1e3cf"></i><i class="a" style="left:197.5px;top:187px;width:2.0px;height:4px;background:#f1e3cf"></i><i class="a" style="left:201.0px;top:187px;width:2.0px;height:4px;background:#f1e3cf"></i><i class="a" style="left:205.0px;top:187px;width:15.0px;height:4px;background:#f1e3cf"></i><i class="a" style="left:222.0px;top:187px;width:2.0px;height:4px;background:#f1e3cf"></i><i class="a" style="left:225.0px;top:187px;width:4.0px;height:4px;background:#f1e3cf"></i><i class="a" style="left:231.0px;top:187px;width:4.0px;height:4px;background:#f1e3cf"></i><i class="a" style="left:237.0px;top:187px;width:0.8px;height:4px;background:#68a2df"></i><i class="a" style="left:237.2px;top:68px;width:4.2px;height:16px;background:#f9dfbc"></i><i class="a" style="left:241.8px;top:68px;width:3.8px;height:16px;background:#fbe6c8"></i><i class="a" style="left:246.4px;top:68px;width:1.0px;height:16px;background:#f9dfbc"></i><i class="a" style="left:239.0px;top:85px;width:6.6px;height:16px;background:#f9dfbc"></i><i class="a" style="left:239.4px;top:102px;width:1.2px;height:16px;background:#f4e3d3"></i><i class="a" style="left:241.0px;top:102px;width:1.4px;height:16px;background:#f8ead9"></i><i class="a" style="left:243.0px;top:102px;width:2.0px;height:16px;background:#f7e8d6"></i><i class="a" style="left:247.0px;top:102px;width:0.6px;height:16px;background:#f4e3d3"></i><i class="a" style="left:245.6px;top:119px;width:1.8px;height:16px;background:#f4e6d4"></i><i class="a" style="left:245.3px;top:136px;width:0.7px;height:16px;background:#f4e6d4"></i><i class="a" style="left:247.0px;top:136px;width:1.3px;height:16px;background:#f4e6d4"></i><i class="a" style="left:246.8px;top:153px;width:1.0px;height:16px;background:#68a2df"></i><i class="a" style="left:245.3px;top:170px;width:0.7px;height:16px;background:#f4e6d4"></i><i class="a" style="left:249.2px;top:68px;width:2.8px;height:16px;background:#f0c05c"></i><i class="a" style="left:253.0px;top:68px;width:14.3px;height:16px;background:#eee0c8"></i><div class="b" style="left:268.2px;top:68px;width:28.1px;height:16px;background:#eee0c8">(<span class="e">…</span>)</div><i class="a" style="left:253.0px;top:85px;width:14.3px;height:16px;background:#eee0c8"></i><div class="b" style="left:268.2px;top:85px;width:28.1px;height:16px;background:#eee0c8">(<span class="e">…</span>)</div><i class="a" style="left:253.0px;top:102px;width:14.3px;height:16px;background:#eee0c8"></i><div class="b" style="left:268.2px;top:102px;width:28.1px;height:16px;background:#eee0c8">t</div><i class="a" style="left:253.0px;top:119px;width:14.3px;height:16px;background:#eee0c8"></i><div class="b" style="left:268.2px;top:119px;width:28.1px;height:16px;background:#eee0c8">(<span class="e">…</span>)</div><i class="a" style="left:253.6px;top:136px;width:1.0px;height:16px;background:#f3e6d6"></i><i class="a" style="left:255.0px;top:136px;width:12.3px;height:16px;background:#eee0c8"></i><i class="a" style="left:268.2px;top:136px;width:12.1px;height:16px;background:#eee0c8"></i><i class="a" style="left:281.0px;top:136px;width:15.3px;height:16px;background:#eee0c8"></i><i class="a" style="left:253.6px;top:153px;width:1.0px;height:16px;background:#f3e6d6"></i><i class="a" style="left:255.0px;top:153px;width:4.3px;height:16px;background:#eee0c8"></i><i class="a" style="left:260.0px;top:153px;width:1.5px;height:16px;background:#eee0c8"></i><i class="a" style="left:262.0px;top:153px;width:1.5px;height:16px;background:#eee0c8"></i><i class="a" style="left:264.5px;top:153px;width:2.8px;height:16px;background:#eee0c8"></i><i class="a" style="left:268.0px;top:153px;width:1.5px;height:16px;background:#eee0c8"></i><i class="a" style="left:270.4px;top:153px;width:3.1px;height:16px;background:#eee0c8"></i><i class="a" style="left:274.2px;top:153px;width:6.1px;height:16px;background:#eee0c8"></i><i class="a" style="left:281.0px;top:153px;width:15.3px;height:16px;background:#eee0c8"></i><i class="a" style="left:255.0px;top:170px;width:3.6px;height:16px;background:#eee0c8"></i><i class="a" style="left:259.4px;top:170px;width:1.6px;height:16px;background:#f4e8d8"></i><i class="a" style="left:262.0px;top:170px;width:2.0px;height:16px;background:#eee0c8"></i><i class="a" style="left:264.6px;top:170px;width:1.4px;height:16px;background:#f4e8d8"></i><i class="a" style="left:267.0px;top:170px;width:3.0px;height:16px;background:#eee0c8"></i><i class="a" style="left:270.8px;top:170px;width:1.0px;height:16px;background:#f0c05c"></i><i class="a" style="left:272.4px;top:170px;width:4.6px;height:16px;background:#eee0c8"></i><i class="a" style="left:278.0px;top:170px;width:3.0px;height:16px;background:#f2e3cf"></i><i class="a" style="left:282.0px;top:170px;width:2.0px;height:16px;background:#f4e8d8"></i><i class="a" style="left:285.0px;top:170px;width:2.0px;height:16px;background:#eee0c8"></i><i class="a" style="left:288.0px;top:170px;width:4.0px;height:16px;background:#eee0c8"></i><i class="a" style="left:293.0px;top:170px;width:1.5px;height:16px;background:#f4e8d8"></i><i class="a" style="left:295.4px;top:170px;width:0.9px;height:16px;background:#eee0c8"></i><i class="a" style="left:255.0px;top:187px;width:1.5px;height:4px;background:#eee0c8"></i><i class="a" style="left:258.0px;top:187px;width:5.0px;height:4px;background:#eee0c8"></i><i class="a" style="left:265.0px;top:187px;width:1.0px;height:4px;background:#f4e8d8"></i><i class="a" style="left:268.0px;top:187px;width:3.0px;height:4px;background:#eee0c8"></i><i class="a" style="left:273.0px;top:187px;width:2.0px;height:4px;background:#f4e8d8"></i><i class="a" style="left:276.0px;top:187px;width:5.0px;height:4px;background:#f0dcc8"></i><i class="a" style="left:283.0px;top:187px;width:3.0px;height:4px;background:#f4e8d8"></i><i class="a" style="left:288.0px;top:187px;width:2.0px;height:4px;background:#eee0c8"></i><i class="a" style="left:292.0px;top:187px;width:3.0px;height:4px;background:#eee0c8"></i><i class="a" style="left:297.0px;top:68px;width:15.2px;height:16px;background:#f0c05c"></i><i class="a" style="left:313.0px;top:68px;width:14.3px;height:16px;background:#c2e9e3"></i><i class="a" style="left:313.0px;top:85px;width:14.3px;height:16px;background:#c2e9e3"></i><i class="a" style="left:316.0px;top:102px;width:11.3px;height:16px;background:#c2e9e3"></i><i class="a" style="left:317.3px;top:119px;width:1.3px;height:16px;background:#d5f0eb"></i><i class="a" style="left:319.3px;top:119px;width:0.7px;height:16px;background:#f0e0d0"></i><i class="a" style="left:321.0px;top:119px;width:0.6px;height:16px;background:#f0e0d0"></i><i class="a" style="left:323.0px;top:119px;width:1.0px;height:16px;background:#f6d9a0"></i><i class="a" style="left:324.6px;top:119px;width:2.8px;height:16px;background:#dff3ef"></i><i class="a" style="left:317.3px;top:136px;width:0.9px;height:16px;background:#d5f0eb"></i><i class="a" style="left:320.0px;top:136px;width:0.6px;height:16px;background:#e5f4f0"></i><i class="a" style="left:322.0px;top:136px;width:0.6px;height:16px;background:#e5f4f0"></i><i class="a" style="left:324.4px;top:136px;width:0.6px;height:16px;background:#f0e0d0"></i><i class="a" style="left:325.6px;top:136px;width:1.4px;height:16px;background:#e5f4f0"></i><i class="a" style="left:326.0px;top:153px;width:0.8px;height:16px;background:#d5f0eb"></i><i class="a" style="left:329.0px;top:68px;width:2.0px;height:16px;background:#b3e6f3"></i><i class="a" style="left:329.0px;top:85px;width:2.0px;height:16px;background:#b3e6f3"></i><i class="a" style="left:329.0px;top:102px;width:2.0px;height:16px;background:#bfeaf4"></i><i class="a" style="left:329.0px;top:119px;width:2.0px;height:16px;background:#bfeaf4"></i><i class="a" style="left:329.0px;top:136px;width:2.0px;height:16px;background:#bfeaf4"></i><i class="a" style="left:329.0px;top:153px;width:2.0px;height:16px;background:#bfeaf4"></i><i class="a" style="left:329.0px;top:170px;width:2.0px;height:16px;background:#bfeaf4"></i><i class="a" style="left:329.0px;top:187px;width:2.0px;height:4px;background:#bfeaf4"></i><i class="a" style="left:332.0px;top:68px;width:0.6px;height:16px;background:#d9d9f6"></i><i class="a" style="left:332.0px;top:85px;width:0.6px;height:16px;background:#d9d9f6"></i><i class="a" style="left:332.0px;top:102px;width:0.6px;height:16px;background:#d9d9f6"></i><i class="a" style="left:332.0px;top:119px;width:0.6px;height:16px;background:#d9d9f6"></i><i class="a" style="left:332.0px;top:136px;width:0.6px;height:16px;background:#d9d9f6"></i><i class="a" style="left:332.0px;top:153px;width:0.6px;height:16px;background:#d9d9f6"></i><div class="b" style="left:334.0px;top:68px;width:31.0px;height:16px;background:#f0c05c">Fu<span class="e">…</span>l</div><i class="a" style="left:366.0px;top:68px;width:4.8px;height:16px;background:#f0c05c"></i><div class="b" style="left:334.0px;top:85px;width:31.0px;height:16px;background:#eee0c8">_e</div><i class="a" style="left:366.0px;top:85px;width:3.5px;height:16px;background:#efdccd"></i><i class="a" style="left:369.8px;top:85px;width:1.0px;height:16px;background:#f4e4d4"></i><div class="b" style="left:334.0px;top:102px;width:31.0px;height:16px;background:#eee0c8">re<span class="e">…</span>y</div><i class="a" style="left:366.0px;top:102px;width:4.0px;height:16px;background:#efdccd"></i><div class="b" style="left:334.0px;top:119px;width:30.6px;height:16px;background:#eee0c8">fi<span class="e">…</span>h</div><i class="a" style="left:366.0px;top:119px;width:4.8px;height:16px;background:#f9dfbc"></i><div class="b" style="left:334.0px;top:136px;width:30.6px;height:16px;background:#eee0c8">c</div><i class="a" style="left:366.0px;top:136px;width:4.8px;height:16px;background:#f9dfbc"></i><i class="a" style="left:334.4px;top:153px;width:2.4px;height:16px;background:#eee0c8"></i><i class="a" style="left:337.6px;top:153px;width:0.8px;height:16px;background:#f4e8d8"></i><i class="a" style="left:339.0px;top:153px;width:11.5px;height:16px;background:#eee0c8"></i><i class="a" style="left:351.2px;top:153px;width:1.2px;height:16px;background:#f2e3cf"></i><i class="a" style="left:353.0px;top:153px;width:11.6px;height:16px;background:#b3e6f3"></i><i class="a" style="left:366.0px;top:153px;width:4.8px;height:16px;background:#f9dfbc"></i><i class="a" style="left:334.0px;top:170px;width:4.0px;height:16px;background:#c4b8ef"></i><i class="a" style="left:339.0px;top:170px;width:11.5px;height:16px;background:#eee0c8"></i><i class="a" style="left:351.4px;top:170px;width:1.0px;height:16px;background:#f4e8d8"></i><i class="a" style="left:353.0px;top:170px;width:2.4px;height:16px;background:#b3e6f3"></i><i class="a" style="left:356.4px;top:170px;width:8.6px;height:16px;background:#efdccb"></i><i class="a" style="left:367.0px;top:170px;width:1.0px;height:16px;background:#f2e3cf"></i><i class="a" style="left:369.0px;top:170px;width:1.6px;height:16px;background:#efdccd"></i><i class="a" style="left:338.5px;top:187px;width:12.0px;height:4px;background:#eee0c8"></i><i class="a" style="left:353.0px;top:187px;width:2.4px;height:4px;background:#b3e6f3"></i><i class="a" style="left:356.4px;top:187px;width:7.6px;height:4px;background:#eee0c8"></i><i class="a" style="left:369.0px;top:187px;width:1.6px;height:4px;background:#efdccd"></i><div class="b" style="left:374.0px;top:17px;width:67.6px;height:16px;background:#c9c9c9;padding-left:4px">Task</div><div class="b" style="left:379.1px;top:34px;width:62.6px;height:16px;background:#72b36b">Comp<span class="e">…</span>ers</div><i class="a" style="left:443.0px;top:17px;width:15.2px;height:16px;background:#c9c9c9"></i><i class="a" style="left:458.2px;top:17px;width:3.0px;height:16px;background:#dddee0"></i><i class="a" style="left:461.8px;top:17px;width:17.2px;height:16px;background:#c9c9c9"></i><i class="a" style="left:479.0px;top:17px;width:8.0px;height:16px;background:#dddee0"></i><i class="a" style="left:487.0px;top:17px;width:2.0px;height:16px;background:#c9c9c9"></i><i class="a" style="left:489.8px;top:17px;width:1.2px;height:16px;background:#c9c9c9"></i><i class="a" style="left:492.3px;top:17px;width:1.7px;height:16px;background:#c9c9c9"></i><i class="a" style="left:494.0px;top:17px;width:2.0px;height:16px;background:#dddee0"></i><i class="a" style="left:497.0px;top:17px;width:2.0px;height:16px;background:#c9c9c9"></i><i class="a" style="left:499.8px;top:17px;width:1.4px;height:16px;background:#c9c9c9"></i><i class="a" style="left:502.0px;top:17px;width:2.0px;height:16px;background:#c9c9c9"></i><i class="a" style="left:505.0px;top:17px;width:13.0px;height:16px;background:#c9c9c9"></i><i class="a" style="left:518.0px;top:17px;width:3.0px;height:16px;background:#dddee0"></i><i class="a" style="left:524.0px;top:17px;width:3.5px;height:16px;background:#c9c9c9"></i><i class="a" style="left:527.5px;top:17px;width:2.5px;height:16px;background:#dddee0"></i><i class="a" style="left:537.0px;top:17px;width:7.3px;height:16px;background:#c2e9e3"></i><i class="a" style="left:544.3px;top:17px;width:2.7px;height:16px;background:#dddee0"></i><i class="a" style="left:554.0px;top:17px;width:5.6px;height:16px;background:#c2e9e3"></i><i class="a" style="left:560.0px;top:17px;width:2.0px;height:16px;background:#c9c9c9"></i><i class="a" style="left:562.0px;top:17px;width:2.0px;height:16px;background:#dddee0"></i><i class="a" style="left:566.0px;top:17px;width:13.3px;height:16px;background:#c9c9c9"></i><i class="a" style="left:579.3px;top:17px;width:1.9px;height:16px;background:#dddee0"></i><i class="a" style="left:588.0px;top:17px;width:0.8px;height:16px;background:#dddee0"></i><i class="a" style="left:592.0px;top:17px;width:3.0px;height:16px;background:#c9c9c9"></i><i class="a" style="left:595.0px;top:17px;width:2.0px;height:16px;background:#dddee0"></i><i class="a" style="left:604.0px;top:17px;width:2.6px;height:16px;background:#c9c9c9"></i><i class="a" style="left:606.6px;top:17px;width:2.4px;height:16px;background:#dddee0"></i><i class="a" style="left:443.0px;top:34px;width:15.4px;height:16px;background:#f0c05c"></i><i class="a" style="left:461.8px;top:34px;width:16.8px;height:16px;background:#f0c05c"></i><i class="a" style="left:478.8px;top:34px;width:0.8px;height:16px;background:#68a2df"></i><i class="a" style="left:480.0px;top:34px;width:5.0px;height:16px;background:#f7dca6"></i><i class="a" style="left:485.2px;top:34px;width:1.8px;height:16px;background:#a3c5ec"></i><i class="a" style="left:488.0px;top:34px;width:1.4px;height:16px;background:#f0c05c"></i><i class="a" style="left:490.0px;top:34px;width:0.7px;height:16px;background:#68a2df"></i><i class="a" style="left:491.2px;top:34px;width:1.2px;height:16px;background:#f0c05c"></i><i class="a" style="left:493.0px;top:34px;width:0.8px;height:16px;background:#72b36b"></i><i class="a" style="left:497.0px;top:34px;width:3.0px;height:16px;background:#f0c05c"></i><i class="a" style="left:500.4px;top:34px;width:0.8px;height:16px;background:#c4b8ef"></i><i class="a" style="left:501.6px;top:34px;width:0.7px;height:16px;background:#9a80e0"></i><i class="a" style="left:502.6px;top:34px;width:1.8px;height:16px;background:#f0c05c"></i><i class="a" style="left:505.0px;top:34px;width:0.8px;height:16px;background:#68a2df"></i><i class="a" style="left:506.0px;top:34px;width:12.0px;height:16px;background:#f0c05c"></i><i class="a" style="left:518.0px;top:34px;width:2.0px;height:16px;background:#f7dca6"></i><i class="a" style="left:524.0px;top:34px;width:1.0px;height:16px;background:#f0c05c"></i><i class="a" style="left:525.0px;top:34px;width:1.0px;height:16px;background:#68a2df"></i><i class="a" style="left:526.0px;top:34px;width:2.0px;height:16px;background:#f7dca6"></i><i class="a" style="left:528.0px;top:34px;width:1.2px;height:16px;background:#9a80e0"></i><i class="a" style="left:537.0px;top:34px;width:7.3px;height:16px;background:#c2e9e3"></i><i class="a" style="left:544.3px;top:34px;width:1.7px;height:16px;background:#dff3ef"></i><i class="a" style="left:554.0px;top:34px;width:5.6px;height:16px;background:#c2e9e3"></i><i class="a" style="left:560.0px;top:34px;width:1.0px;height:16px;background:#9a80e0"></i><i class="a" style="left:561.0px;top:34px;width:0.8px;height:16px;background:#72b36b"></i><i class="a" style="left:562.0px;top:34px;width:1.4px;height:16px;background:#f0c05c"></i><i class="a" style="left:566.0px;top:34px;width:14.0px;height:16px;background:#f0c05c"></i><i class="a" style="left:580.0px;top:34px;width:1.0px;height:16px;background:#f7dca6"></i><i class="a" style="left:588.0px;top:34px;width:0.8px;height:16px;background:#f0c05c"></i><i class="a" style="left:592.6px;top:34px;width:1.4px;height:16px;background:#9a80e0"></i><i class="a" style="left:594.0px;top:34px;width:0.8px;height:16px;background:#72b36b"></i><i class="a" style="left:595.0px;top:34px;width:1.5px;height:16px;background:#f7dca6"></i><i class="a" style="left:605.0px;top:34px;width:1.4px;height:16px;background:#a3c5ec"></i><i class="a" style="left:606.6px;top:34px;width:1.0px;height:16px;background:#f7dca6"></i><i class="a" style="left:442.0px;top:51px;width:1.0px;height:16px;background:#c4b8ef"></i><i class="a" style="left:443.0px;top:51px;width:15.4px;height:16px;background:#f0c05c"></i><i class="a" style="left:461.8px;top:51px;width:16.8px;height:16px;background:#f0c05c"></i><i class="a" style="left:483.0px;top:51px;width:1.6px;height:16px;background:#f7dca6"></i><i class="a" style="left:488.0px;top:51px;width:1.4px;height:16px;background:#f0c05c"></i><i class="a" style="left:490.8px;top:51px;width:0.8px;height:16px;background:#c4b8ef"></i><i class="a" style="left:492.6px;top:51px;width:1.0px;height:16px;background:#9a80e0"></i><i class="a" style="left:494.0px;top:51px;width:0.7px;height:16px;background:#f0c05c"></i><i class="a" style="left:497.2px;top:51px;width:0.8px;height:16px;background:#dff3ef"></i><i class="a" style="left:498.4px;top:51px;width:1.6px;height:16px;background:#efdccd"></i><i class="a" style="left:502.0px;top:51px;width:1.0px;height:16px;background:#9a80e0"></i><i class="a" style="left:503.0px;top:51px;width:1.6px;height:16px;background:#f5cdea"></i><i class="a" style="left:506.0px;top:51px;width:11.2px;height:16px;background:#dfcfee"></i><i class="a" style="left:517.2px;top:51px;width:0.8px;height:16px;background:#e8d9f2"></i><i class="a" style="left:518.4px;top:51px;width:2.0px;height:16px;background:#f7dca6"></i><i class="a" style="left:525.0px;top:51px;width:1.2px;height:16px;background:#9a80e0"></i><i class="a" style="left:526.8px;top:51px;width:1.2px;height:16px;background:#c4b8ef"></i><i class="a" style="left:528.4px;top:51px;width:1.6px;height:16px;background:#f7dca6"></i><i class="a" style="left:537.0px;top:51px;width:7.6px;height:16px;background:#efd9c8"></i><i class="a" style="left:545.0px;top:51px;width:1.0px;height:16px;background:#dff3ef"></i><i class="a" style="left:554.0px;top:51px;width:5.2px;height:16px;background:#efd9c8"></i><i class="a" style="left:560.6px;top:51px;width:0.8px;height:16px;background:#f7dca6"></i><i class="a" style="left:562.0px;top:51px;width:1.2px;height:16px;background:#9a80e0"></i><i class="a" style="left:566.0px;top:51px;width:13.6px;height:16px;background:#f0c05c"></i><i class="a" style="left:579.6px;top:51px;width:1.0px;height:16px;background:#c2e9e3"></i><i class="a" style="left:588.4px;top:51px;width:0.6px;height:16px;background:#dff3ef"></i><i class="a" style="left:592.2px;top:51px;width:0.8px;height:16px;background:#f0c05c"></i><i class="a" style="left:595.0px;top:51px;width:1.2px;height:16px;background:#9a80e0"></i><i class="a" style="left:596.2px;top:51px;width:0.8px;height:16px;background:#f7dca6"></i><i class="a" style="left:607.6px;top:51px;width:0.6px;height:16px;background:#dff3ef"></i><i class="a" style="left:443.0px;top:68px;width:15.4px;height:16px;background:#eee0c8"></i><i class="a" style="left:461.8px;top:68px;width:16.8px;height:16px;background:#eee0c8"></i><i class="a" style="left:484.0px;top:68px;width:0.7px;height:16px;background:#dff3ef"></i><i class="a" style="left:489.0px;top:68px;width:0.7px;height:16px;background:#efdccd"></i><i class="a" style="left:491.0px;top:68px;width:0.7px;height:16px;background:#dff3ef"></i><i class="a" style="left:492.6px;top:68px;width:0.8px;height:16px;background:#dff3ef"></i><i class="a" style="left:497.4px;top:68px;width:0.8px;height:16px;background:#efdccd"></i><i class="a" style="left:498.8px;top:68px;width:1.2px;height:16px;background:#f7dca6"></i><i class="a" style="left:501.4px;top:68px;width:0.6px;height:16px;background:#efdccd"></i><i class="a" style="left:504.6px;top:68px;width:0.8px;height:16px;background:#dff3ef"></i><i class="a" style="left:506.0px;top:68px;width:11.4px;height:16px;background:#dfcfee"></i><i class="a" style="left:518.0px;top:68px;width:2.2px;height:16px;background:#68a2df"></i><i class="a" style="left:525.0px;top:68px;width:2.4px;height:16px;background:#c4b8ef"></i><i class="a" style="left:527.8px;top:68px;width:0.8px;height:16px;background:#e8d9f2"></i><i class="a" style="left:529.0px;top:68px;width:1.0px;height:16px;background:#f7dca6"></i><i class="a" style="left:537.0px;top:68px;width:0.8px;height:16px;background:#f0c05c"></i><i class="a" style="left:546.0px;top:68px;width:0.7px;height:16px;background:#efdccd"></i><i class="a" style="left:554.0px;top:68px;width:0.8px;height:16px;background:#f0c05c"></i><i class="a" style="left:560.4px;top:68px;width:0.6px;height:16px;background:#efdccd"></i><i class="a" style="left:563.0px;top:68px;width:0.7px;height:16px;background:#dff3ef"></i><i class="a" style="left:567.0px;top:68px;width:13.0px;height:16px;background:#f9dfbc"></i><i class="a" style="left:580.0px;top:68px;width:0.8px;height:16px;background:#dff3ef"></i><i class="a" style="left:588.4px;top:68px;width:0.6px;height:16px;background:#dff3ef"></i><i class="a" style="left:592.2px;top:68px;width:0.6px;height:16px;background:#efdccd"></i><i class="a" style="left:596.2px;top:68px;width:0.8px;height:16px;background:#dff3ef"></i><i class="a" style="left:607.6px;top:68px;width:0.6px;height:16px;background:#dff3ef"></i><i class="a" style="left:443.0px;top:85px;width:15.4px;height:16px;background:#eee0c8"></i><i class="a" style="left:461.8px;top:85px;width:16.8px;height:16px;background:#eee0c8"></i><i class="a" style="left:484.0px;top:85px;width:0.7px;height:16px;background:#efdccd"></i><i class="a" style="left:489.0px;top:85px;width:0.7px;height:16px;background:#dbe3f8"></i><i class="a" style="left:491.4px;top:85px;width:0.6px;height:16px;background:#dff3ef"></i><i class="a" style="left:492.6px;top:85px;width:0.8px;height:16px;background:#dff3ef"></i><i class="a" style="left:497.4px;top:85px;width:2.2px;height:16px;background:#efdccd"></i><i class="a" style="left:504.6px;top:85px;width:1.4px;height:16px;background:#f7dca6"></i><i class="a" style="left:506.4px;top:85px;width:3.6px;height:16px;background:#e6daf1"></i><i class="a" style="left:510.0px;top:85px;width:7.6px;height:16px;background:#dfcfee"></i><i class="a" style="left:525.0px;top:85px;width:2.4px;height:16px;background:#c4b8ef"></i><i class="a" style="left:560.4px;top:85px;width:0.6px;height:16px;background:#efdccd"></i><i class="a" style="left:563.0px;top:85px;width:0.7px;height:16px;background:#dff3ef"></i><i class="a" style="left:568.0px;top:85px;width:12.0px;height:16px;background:#f9dfbc"></i><i class="a" style="left:588.4px;top:85px;width:0.6px;height:16px;background:#efdccd"></i><i class="a" style="left:592.2px;top:85px;width:0.6px;height:16px;background:#efdccd"></i><i class="a" style="left:596.2px;top:85px;width:0.8px;height:16px;background:#dff3ef"></i><i class="a" style="left:443.0px;top:102px;width:15.4px;height:16px;background:#eee0c8"></i><i class="a" style="left:461.8px;top:102px;width:16.8px;height:16px;background:#eee0c8"></i><i class="a" style="left:489.0px;top:102px;width:0.7px;height:16px;background:#dbe3f8"></i><i class="a" style="left:498.0px;top:102px;width:1.4px;height:16px;background:#efdccd"></i><i class="a" style="left:504.0px;top:102px;width:0.7px;height:16px;background:#efdccd"></i><i class="a" style="left:505.4px;top:102px;width:0.6px;height:16px;background:#efdccd"></i><i class="a" style="left:508.0px;top:102px;width:2.0px;height:16px;background:#e6daf1"></i><i class="a" style="left:510.4px;top:102px;width:7.2px;height:16px;background:#dfcfee"></i><i class="a" style="left:525.0px;top:102px;width:2.4px;height:16px;background:#c4b8ef"></i><i class="a" style="left:563.0px;top:102px;width:0.7px;height:16px;background:#efdccd"></i><i class="a" style="left:569.4px;top:102px;width:10.6px;height:16px;background:#f9dfbc"></i><i class="a" style="left:596.2px;top:102px;width:0.8px;height:16px;background:#efdccd"></i><i class="a" style="left:443.0px;top:119px;width:15.4px;height:16px;background:#efdccd"></i><i class="a" style="left:463.0px;top:119px;width:3.4px;height:16px;background:#f4e8d8"></i><i class="a" style="left:469.0px;top:119px;width:9.6px;height:16px;background:#eee0c8"></i><i class="a" style="left:489.0px;top:119px;width:0.7px;height:16px;background:#dbe3f8"></i><i class="a" style="left:498.0px;top:119px;width:1.0px;height:16px;background:#efdccd"></i><i class="a" style="left:504.0px;top:119px;width:0.7px;height:16px;background:#efdccd"></i><i class="a" style="left:506.0px;top:119px;width:1.0px;height:16px;background:#e6daf1"></i><i class="a" style="left:508.6px;top:119px;width:1.0px;height:16px;background:#e6daf1"></i><i class="a" style="left:510.4px;top:119px;width:7.2px;height:16px;background:#dfcfee"></i><i class="a" style="left:525.0px;top:119px;width:2.2px;height:16px;background:#c4b8ef"></i><i class="a" style="left:563.0px;top:119px;width:0.7px;height:16px;background:#efdccd"></i><i class="a" style="left:570.0px;top:119px;width:9.6px;height:16px;background:#efdccd"></i><i class="a" style="left:596.2px;top:119px;width:0.8px;height:16px;background:#efdccd"></i><i class="a" style="left:444.0px;top:136px;width:0.7px;height:16px;background:#72b36b"></i><i class="a" style="left:464.0px;top:136px;width:3.0px;height:16px;background:#f9dfbc"></i><i class="a" style="left:469.0px;top:136px;width:9.6px;height:16px;background:#f9dfbc"></i><i class="a" style="left:489.0px;top:136px;width:0.7px;height:16px;background:#efdccd"></i><i class="a" style="left:498.0px;top:136px;width:1.0px;height:16px;background:#efdccd"></i><i class="a" style="left:504.0px;top:136px;width:0.7px;height:16px;background:#efdccd"></i><i class="a" style="left:506.0px;top:136px;width:1.0px;height:16px;background:#e6daf1"></i><i class="a" style="left:508.6px;top:136px;width:1.0px;height:16px;background:#e6daf1"></i><i class="a" style="left:510.4px;top:136px;width:7.2px;height:16px;background:#dfcfee"></i><i class="a" style="left:525.0px;top:136px;width:1.6px;height:16px;background:#c4b8ef"></i><i class="a" style="left:570.0px;top:136px;width:8.0px;height:16px;background:#efdccd"></i><i class="a" style="left:578.8px;top:136px;width:0.8px;height:16px;background:#f4e8d8"></i><i class="a" style="left:469.0px;top:153px;width:9.6px;height:16px;background:#f9dfbc"></i><i class="a" style="left:489.0px;top:153px;width:0.7px;height:16px;background:#efdccd"></i><i class="a" style="left:498.0px;top:153px;width:1.0px;height:16px;background:#efdccd"></i><i class="a" style="left:509.0px;top:153px;width:8.8px;height:16px;background:#dfcfee"></i><i class="a" style="left:525.0px;top:153px;width:2.0px;height:16px;background:#c4b8ef"></i><i class="a" style="left:570.0px;top:153px;width:9.0px;height:16px;background:#efdccd"></i><i class="a" style="left:469.5px;top:170px;width:7.9px;height:16px;background:#f6e2c4"></i><i class="a" style="left:478.4px;top:170px;width:0.8px;height:16px;background:#f8ead8"></i><i class="a" style="left:498.0px;top:170px;width:1.0px;height:16px;background:#efdccd"></i><i class="a" style="left:509.0px;top:170px;width:3.4px;height:16px;background:#e6daf1"></i><i class="a" style="left:514.0px;top:170px;width:4.0px;height:16px;background:#dfcfee"></i><i class="a" style="left:525.0px;top:170px;width:2.0px;height:16px;background:#c4b8ef"></i><i class="a" style="left:571.0px;top:170px;width:6.4px;height:16px;background:#efdccd"></i><i class="a" style="left:470.0px;top:187px;width:7.0px;height:4px;background:#f6e2c4"></i><i class="a" style="left:498.0px;top:187px;width:1.0px;height:4px;background:#efdccd"></i><i class="a" style="left:510.0px;top:187px;width:1.0px;height:4px;background:#dfcfee"></i><i class="a" style="left:512.0px;top:187px;width:0.8px;height:4px;background:#dfcfee"></i><i class="a" style="left:515.4px;top:187px;width:1.0px;height:4px;background:#dfcfee"></i><i class="a" style="left:525.0px;top:187px;width:2.0px;height:4px;background:#c4b8ef"></i><i class="a" style="left:571.0px;top:187px;width:5.0px;height:4px;background:#efdccd"></i><i class="a" style="left:615.0px;top:17px;width:0.8px;height:16px;background:#d6d6d8"></i><i class="a" style="left:615.0px;top:34px;width:0.8px;height:16px;background:#f3d193"></i><i class="a" style="left:615.0px;top:51px;width:0.8px;height:16px;background:#d9f0ec"></i><i class="a" style="left:615.0px;top:68px;width:0.8px;height:16px;background:#f1dfcf"></i><i class="a" style="left:615.0px;top:85px;width:0.8px;height:16px;background:#e3f3f0"></i><i class="a" style="left:631.0px;top:17px;width:0.8px;height:16px;background:#d6d6d8"></i><i class="a" style="left:631.0px;top:34px;width:0.8px;height:16px;background:#f3d193"></i><i class="a" style="left:631.0px;top:51px;width:0.8px;height:16px;background:#f3d193"></i><i class="a" style="left:631.0px;top:68px;width:0.8px;height:16px;background:#e3f3f0"></i><i class="a" style="left:631.0px;top:85px;width:0.8px;height:16px;background:#f1e0d2"></i><i class="a" style="left:639.0px;top:17px;width:0.8px;height:16px;background:#d6d6d8"></i><i class="a" style="left:639.0px;top:34px;width:0.8px;height:16px;background:#d9f0ec"></i><i class="a" style="left:639.0px;top:51px;width:0.8px;height:16px;background:#d9f0ec"></i><i class="a" style="left:639.0px;top:68px;width:0.8px;height:16px;background:#f1dfcf"></i><i class="a" style="left:639.0px;top:85px;width:0.8px;height:16px;background:#f1e0d2"></i><i class="a" style="left:647.0px;top:17px;width:0.8px;height:16px;background:#d6d6d8"></i><i class="a" style="left:647.0px;top:34px;width:0.8px;height:16px;background:#f3d193"></i><i class="a" style="left:647.0px;top:51px;width:0.8px;height:16px;background:#d9f0ec"></i><i class="a" style="left:647.0px;top:68px;width:0.8px;height:16px;background:#e3f3f0"></i><i class="a" style="left:655.0px;top:17px;width:0.8px;height:16px;background:#d6d6d8"></i><i class="a" style="left:655.0px;top:34px;width:0.8px;height:16px;background:#f3d193"></i><i class="a" style="left:655.0px;top:51px;width:0.8px;height:16px;background:#f3d193"></i><i class="a" style="left:655.0px;top:68px;width:0.8px;height:16px;background:#f1dfcf"></i><i class="a" style="left:655.0px;top:85px;width:0.8px;height:16px;background:#f1e0d2"></i><i class="a" style="left:663.5px;top:17px;width:0.8px;height:16px;background:#d6d6d8"></i><i class="a" style="left:663.5px;top:34px;width:0.8px;height:16px;background:#d9f0ec"></i><i class="a" style="left:663.5px;top:51px;width:0.8px;height:16px;background:#d9f0ec"></i><i class="a" style="left:663.5px;top:68px;width:0.8px;height:16px;background:#e3f3f0"></i><i class="a" style="left:663.5px;top:85px;width:0.8px;height:16px;background:#f1e0d2"></i><i class="a" style="left:671.5px;top:17px;width:0.8px;height:16px;background:#d6d6d8"></i><i class="a" style="left:671.5px;top:34px;width:0.8px;height:16px;background:#f3d193"></i><i class="a" style="left:671.5px;top:51px;width:0.8px;height:16px;background:#d9f0ec"></i><i class="a" style="left:671.5px;top:68px;width:0.8px;height:16px;background:#f1dfcf"></i><i class="a" style="left:671.5px;top:85px;width:0.8px;height:16px;background:#e3f3f0"></i><i class="a" style="left:698.0px;top:17px;width:0.8px;height:16px;background:#d6d6d8"></i><i class="a" style="left:698.0px;top:34px;width:0.8px;height:16px;background:#f3d193"></i><i class="a" style="left:698.0px;top:51px;width:0.8px;height:16px;background:#f3d193"></i><i class="a" style="left:698.0px;top:68px;width:0.8px;height:16px;background:#e3f3f0"></i><i class="a" style="left:704.0px;top:17px;width:0.8px;height:16px;background:#d6d6d8"></i><i class="a" style="left:704.0px;top:34px;width:0.8px;height:16px;background:#d9f0ec"></i><i class="a" style="left:704.0px;top:51px;width:0.8px;height:16px;background:#d9f0ec"></i><i class="a" style="left:704.0px;top:68px;width:0.8px;height:16px;background:#f1dfcf"></i><i class="a" style="left:704.0px;top:85px;width:0.8px;height:16px;background:#f1e0d2"></i><i class="a" style="left:706.4px;top:17px;width:0.8px;height:16px;background:#d6d6d8"></i><i class="a" style="left:706.4px;top:34px;width:0.8px;height:16px;background:#f3d193"></i><i class="a" style="left:706.4px;top:51px;width:0.8px;height:16px;background:#d9f0ec"></i><i class="a" style="left:706.4px;top:68px;width:0.8px;height:16px;background:#e3f3f0"></i><i class="a" style="left:706.4px;top:85px;width:0.8px;height:16px;background:#e3f3f0"></i><i class="a" style="left:714.0px;top:17px;width:0.8px;height:16px;background:#d6d6d8"></i><i class="a" style="left:714.0px;top:34px;width:0.8px;height:16px;background:#f3d193"></i><i class="a" style="left:714.0px;top:51px;width:0.8px;height:16px;background:#f3d193"></i><i class="a" style="left:714.0px;top:68px;width:0.8px;height:16px;background:#f1dfcf"></i><i class="a" style="left:714.0px;top:85px;width:0.8px;height:16px;background:#f1e0d2"></i><i class="a" style="left:738.7px;top:17px;width:0.8px;height:16px;background:#d6d6d8"></i><i class="a" style="left:738.7px;top:34px;width:0.8px;height:16px;background:#d9f0ec"></i><i class="a" style="left:738.7px;top:51px;width:0.8px;height:16px;background:#d9f0ec"></i><i class="a" style="left:738.7px;top:68px;width:0.8px;height:16px;background:#e3f3f0"></i><i class="a" style="left:746.5px;top:17px;width:0.8px;height:16px;background:#d6d6d8"></i><i class="a" style="left:746.5px;top:34px;width:0.8px;height:16px;background:#f3d193"></i><i class="a" style="left:746.5px;top:51px;width:0.8px;height:16px;background:#d9f0ec"></i><i class="a" style="left:746.5px;top:68px;width:0.8px;height:16px;background:#f1dfcf"></i><i class="a" style="left:746.5px;top:85px;width:0.8px;height:16px;background:#e3f3f0"></i><i class="a" style="left:752.0px;top:17px;width:0.8px;height:16px;background:#d6d6d8"></i><i class="a" style="left:752.0px;top:34px;width:0.8px;height:16px;background:#f3d193"></i><i class="a" style="left:752.0px;top:51px;width:0.8px;height:16px;background:#f3d193"></i><i class="a" style="left:752.0px;top:68px;width:0.8px;height:16px;background:#e3f3f0"></i><i class="a" style="left:752.0px;top:85px;width:0.8px;height:16px;background:#f1e0d2"></i><i class="a" style="left:761.5px;top:17px;width:0.8px;height:16px;background:#d6d6d8"></i><i class="a" style="left:761.5px;top:34px;width:0.8px;height:16px;background:#d9f0ec"></i><i class="a" style="left:761.5px;top:51px;width:0.8px;height:16px;background:#d9f0ec"></i><i class="a" style="left:761.5px;top:68px;width:0.8px;height:16px;background:#f1dfcf"></i><i class="a" style="left:761.5px;top:85px;width:0.8px;height:16px;background:#f1e0d2"></i><i class="a" style="left:763.4px;top:17px;width:0.8px;height:16px;background:#d6d6d8"></i><i class="a" style="left:763.4px;top:34px;width:0.8px;height:16px;background:#f3d193"></i><i class="a" style="left:763.4px;top:51px;width:0.8px;height:16px;background:#d9f0ec"></i><i class="a" style="left:763.4px;top:68px;width:0.8px;height:16px;background:#e3f3f0"></i><i class="a" style="left:771.0px;top:17px;width:0.8px;height:16px;background:#d6d6d8"></i><i class="a" style="left:771.0px;top:34px;width:0.8px;height:16px;background:#f3d193"></i><i class="a" style="left:771.0px;top:51px;width:0.8px;height:16px;background:#f3d193"></i><i class="a" style="left:771.0px;top:68px;width:0.8px;height:16px;background:#f1dfcf"></i><i class="a" style="left:771.0px;top:85px;width:0.8px;height:16px;background:#f1e0d2"></i><i class="a" style="left:779.5px;top:17px;width:0.8px;height:16px;background:#d6d6d8"></i><i class="a" style="left:779.5px;top:34px;width:0.8px;height:16px;background:#d9f0ec"></i><i class="a" style="left:779.5px;top:51px;width:0.8px;height:16px;background:#d9f0ec"></i><i class="a" style="left:779.5px;top:68px;width:0.8px;height:16px;background:#e3f3f0"></i><i class="a" style="left:779.5px;top:85px;width:0.8px;height:16px;background:#f1e0d2"></i><i class="a" style="left:796.0px;top:17px;width:0.8px;height:16px;background:#d6d6d8"></i><i class="a" style="left:796.0px;top:34px;width:0.8px;height:16px;background:#f3d193"></i><i class="a" style="left:796.0px;top:51px;width:0.8px;height:16px;background:#d9f0ec"></i><i class="a" style="left:796.0px;top:68px;width:0.8px;height:16px;background:#f1dfcf"></i><i class="a" style="left:796.0px;top:85px;width:0.8px;height:16px;background:#e3f3f0"></i><i class="a" style="left:804.0px;top:17px;width:0.8px;height:16px;background:#d6d6d8"></i><i class="a" style="left:804.0px;top:34px;width:0.8px;height:16px;background:#f3d193"></i><i class="a" style="left:804.0px;top:51px;width:0.8px;height:16px;background:#f3d193"></i><i class="a" style="left:804.0px;top:68px;width:0.8px;height:16px;background:#e3f3f0"></i><i class="a" style="left:811.5px;top:17px;width:0.8px;height:16px;background:#d6d6d8"></i><i class="a" style="left:811.5px;top:34px;width:0.8px;height:16px;background:#d9f0ec"></i><i class="a" style="left:811.5px;top:51px;width:0.8px;height:16px;background:#d9f0ec"></i><i class="a" style="left:811.5px;top:68px;width:0.8px;height:16px;background:#f1dfcf"></i><i class="a" style="left:811.5px;top:85px;width:0.8px;height:16px;background:#f1e0d2"></i><i class="a" style="left:819.5px;top:17px;width:0.8px;height:16px;background:#d6d6d8"></i><i class="a" style="left:819.5px;top:34px;width:0.8px;height:16px;background:#f3d193"></i><i class="a" style="left:819.5px;top:51px;width:0.8px;height:16px;background:#d9f0ec"></i><i class="a" style="left:819.5px;top:68px;width:0.8px;height:16px;background:#e3f3f0"></i><i class="a" style="left:819.5px;top:85px;width:0.8px;height:16px;background:#e3f3f0"></i><i class="a" style="left:827.5px;top:17px;width:0.8px;height:16px;background:#d6d6d8"></i><i class="a" style="left:827.5px;top:34px;width:0.8px;height:16px;background:#f3d193"></i><i class="a" style="left:827.5px;top:51px;width:0.8px;height:16px;background:#f3d193"></i><i class="a" style="left:827.5px;top:68px;width:0.8px;height:16px;background:#f1dfcf"></i><i class="a" style="left:827.5px;top:85px;width:0.8px;height:16px;background:#f1e0d2"></i><i class="a" style="left:835.5px;top:17px;width:0.8px;height:16px;background:#d6d6d8"></i><i class="a" style="left:835.5px;top:34px;width:0.8px;height:16px;background:#d9f0ec"></i><i class="a" style="left:835.5px;top:51px;width:0.8px;height:16px;background:#d9f0ec"></i><i class="a" style="left:835.5px;top:68px;width:0.8px;height:16px;background:#e3f3f0"></i><i class="a" style="left:843.5px;top:17px;width:0.8px;height:16px;background:#d6d6d8"></i><i class="a" style="left:843.5px;top:34px;width:0.8px;height:16px;background:#f3d193"></i><i class="a" style="left:843.5px;top:51px;width:0.8px;height:16px;background:#d9f0ec"></i><i class="a" style="left:843.5px;top:68px;width:0.8px;height:16px;background:#f1dfcf"></i><i class="a" style="left:843.5px;top:85px;width:0.8px;height:16px;background:#e3f3f0"></i><i class="a" style="left:860.0px;top:17px;width:0.8px;height:16px;background:#d6d6d8"></i><i class="a" style="left:860.0px;top:34px;width:0.8px;height:16px;background:#f3d193"></i><i class="a" style="left:860.0px;top:51px;width:0.8px;height:16px;background:#f3d193"></i><i class="a" style="left:860.0px;top:68px;width:0.8px;height:16px;background:#e3f3f0"></i><i class="a" style="left:860.0px;top:85px;width:0.8px;height:16px;background:#f1e0d2"></i><i class="a" style="left:868.0px;top:17px;width:0.8px;height:16px;background:#d6d6d8"></i><i class="a" style="left:868.0px;top:34px;width:0.8px;height:16px;background:#d9f0ec"></i><i class="a" style="left:868.0px;top:51px;width:0.8px;height:16px;background:#d9f0ec"></i><i class="a" style="left:868.0px;top:68px;width:0.8px;height:16px;background:#f1dfcf"></i><i class="a" style="left:868.0px;top:85px;width:0.8px;height:16px;background:#f1e0d2"></i><i class="a" style="left:875.5px;top:17px;width:0.8px;height:16px;background:#d6d6d8"></i><i class="a" style="left:875.5px;top:34px;width:0.8px;height:16px;background:#f3d193"></i><i class="a" style="left:875.5px;top:51px;width:0.8px;height:16px;background:#d9f0ec"></i><i class="a" style="left:875.5px;top:68px;width:0.8px;height:16px;background:#e3f3f0"></i><i class="a" style="left:884.0px;top:17px;width:0.8px;height:16px;background:#d6d6d8"></i><i class="a" style="left:884.0px;top:34px;width:0.8px;height:16px;background:#f3d193"></i><i class="a" style="left:884.0px;top:51px;width:0.8px;height:16px;background:#f3d193"></i><i class="a" style="left:884.0px;top:68px;width:0.8px;height:16px;background:#f1dfcf"></i><i class="a" style="left:884.0px;top:85px;width:0.8px;height:16px;background:#f1e0d2"></i><i class="a" style="left:892.5px;top:17px;width:0.8px;height:16px;background:#d6d6d8"></i><i class="a" style="left:892.5px;top:34px;width:0.8px;height:16px;background:#d9f0ec"></i><i class="a" style="left:892.5px;top:51px;width:0.8px;height:16px;background:#d9f0ec"></i><i class="a" style="left:892.5px;top:68px;width:0.8px;height:16px;background:#e3f3f0"></i><i class="a" style="left:892.5px;top:85px;width:0.8px;height:16px;background:#f1e0d2"></i><i class="a" style="left:906.5px;top:17px;width:0.8px;height:16px;background:#d6d6d8"></i><i class="a" style="left:906.5px;top:34px;width:0.8px;height:16px;background:#f3d193"></i><i class="a" style="left:906.5px;top:51px;width:0.8px;height:16px;background:#d9f0ec"></i><i class="a" style="left:906.5px;top:68px;width:0.8px;height:16px;background:#f1dfcf"></i><i class="a" style="left:906.5px;top:85px;width:0.8px;height:16px;background:#e3f3f0"></i><i class="a" style="left:914.5px;top:17px;width:0.8px;height:16px;background:#d6d6d8"></i><i class="a" style="left:914.5px;top:34px;width:0.8px;height:16px;background:#f3d193"></i><i class="a" style="left:914.5px;top:51px;width:0.8px;height:16px;background:#f3d193"></i><i class="a" style="left:914.5px;top:68px;width:0.8px;height:16px;background:#e3f3f0"></i><i class="a" style="left:922.5px;top:17px;width:0.8px;height:16px;background:#d6d6d8"></i><i class="a" style="left:922.5px;top:34px;width:0.8px;height:16px;background:#d9f0ec"></i><i class="a" style="left:922.5px;top:51px;width:0.8px;height:16px;background:#d9f0ec"></i><i class="a" style="left:922.5px;top:68px;width:0.8px;height:16px;background:#f1dfcf"></i><i class="a" style="left:922.5px;top:85px;width:0.8px;height:16px;background:#f1e0d2"></i><i class="a" style="left:930.5px;top:17px;width:0.8px;height:16px;background:#d6d6d8"></i><i class="a" style="left:930.5px;top:34px;width:0.8px;height:16px;background:#f3d193"></i><i class="a" style="left:930.5px;top:51px;width:0.8px;height:16px;background:#d9f0ec"></i><i class="a" style="left:930.5px;top:68px;width:0.8px;height:16px;background:#e3f3f0"></i><i class="a" style="left:930.5px;top:85px;width:0.8px;height:16px;background:#e3f3f0"></i><i class="a" style="left:610.0px;top:17px;width:2.4px;height:16px;background:#c4c4c4"></i><i class="a" style="left:612.4px;top:17px;width:0.8px;height:16px;background:#dddee0"></i><i class="a" style="left:610.0px;top:34px;width:1.8px;height:16px;background:#f0c05c"></i><i class="a" style="left:611.8px;top:34px;width:0.8px;height:16px;background:#f7dca6"></i><i class="a" style="left:611.4px;top:51px;width:0.8px;height:16px;background:#f0c05c"></i><i class="a" style="left:612.3px;top:51px;width:0.8px;height:16px;background:#c7b6e6"></i><i class="a" style="left:612.3px;top:68px;width:0.8px;height:16px;background:#c7b6e6"></i><i class="a" style="left:612.3px;top:85px;width:0.8px;height:16px;background:#c7b6e6"></i><i class="a" style="left:612.3px;top:102px;width:0.8px;height:16px;background:#ddd0ee"></i><i class="a" style="left:612.3px;top:119px;width:0.8px;height:16px;background:#ddd0ee"></i><i class="a" style="left:624.7px;top:17px;width:2.5px;height:16px;background:#c6c6c6"></i><i class="a" style="left:627.2px;top:17px;width:2.1px;height:16px;background:#dddee0"></i><i class="a" style="left:623.9px;top:34px;width:1.3px;height:16px;background:#f7dca6"></i><i class="a" style="left:625.2px;top:34px;width:1.4px;height:16px;background:#9a80e0"></i><i class="a" style="left:626.6px;top:34px;width:0.7px;height:16px;background:#c4b8ef"></i><i class="a" style="left:627.3px;top:34px;width:0.6px;height:16px;background:#86bd7f"></i><i class="a" style="left:627.8px;top:34px;width:1.9px;height:16px;background:#f7dca6"></i><i class="a" style="left:624.1px;top:51px;width:0.9px;height:16px;background:#f3d193"></i><i class="a" style="left:626.7px;top:51px;width:0.9px;height:16px;background:#a58fe4"></i><i class="a" style="left:625.5px;top:51px;width:1.0px;height:16px;background:#f7dca6"></i><i class="a" style="left:624.7px;top:68px;width:0.8px;height:16px;background:#e8d6f0"></i><i class="a" style="left:624.7px;top:85px;width:0.8px;height:16px;background:#f1e0d2"></i><i class="a" style="left:627.7px;top:85px;width:0.8px;height:16px;background:#f1e0d2"></i><i class="a" style="left:657.8px;top:17px;width:1.9px;height:16px;background:#c6c6c6"></i><i class="a" style="left:659.7px;top:17px;width:1.7px;height:16px;background:#dddee0"></i><i class="a" style="left:657.0px;top:34px;width:1.3px;height:16px;background:#f7dca6"></i><i class="a" style="left:658.3px;top:34px;width:1.0px;height:16px;background:#9a80e0"></i><i class="a" style="left:659.3px;top:34px;width:0.5px;height:16px;background:#c4b8ef"></i><i class="a" style="left:659.9px;top:34px;width:0.4px;height:16px;background:#86bd7f"></i><i class="a" style="left:660.3px;top:34px;width:1.5px;height:16px;background:#f7dca6"></i><i class="a" style="left:657.2px;top:51px;width:0.9px;height:16px;background:#f3d193"></i><i class="a" style="left:659.3px;top:51px;width:0.9px;height:16px;background:#a58fe4"></i><i class="a" style="left:657.8px;top:68px;width:0.8px;height:16px;background:#f3d193"></i><i class="a" style="left:657.8px;top:85px;width:0.8px;height:16px;background:#f1e0d2"></i><i class="a" style="left:659.8px;top:85px;width:0.8px;height:16px;background:#f1e0d2"></i><i class="a" style="left:679.0px;top:17px;width:2.5px;height:16px;background:#c6c6c6"></i><i class="a" style="left:681.5px;top:17px;width:2.1px;height:16px;background:#dddee0"></i><i class="a" style="left:678.2px;top:34px;width:1.3px;height:16px;background:#f7dca6"></i><i class="a" style="left:679.5px;top:34px;width:1.4px;height:16px;background:#a3c5ec"></i><i class="a" style="left:680.9px;top:34px;width:0.7px;height:16px;background:#f7dca6"></i><i class="a" style="left:682.1px;top:34px;width:1.9px;height:16px;background:#f7dca6"></i><i class="a" style="left:678.4px;top:51px;width:0.9px;height:16px;background:#f3d193"></i><i class="a" style="left:681.0px;top:51px;width:0.9px;height:16px;background:#a58fe4"></i><i class="a" style="left:679.8px;top:51px;width:1.0px;height:16px;background:#f7dca6"></i><i class="a" style="left:679.0px;top:68px;width:0.8px;height:16px;background:#f3d193"></i><i class="a" style="left:679.0px;top:85px;width:0.8px;height:16px;background:#f1e0d2"></i><i class="a" style="left:682.0px;top:85px;width:0.8px;height:16px;background:#f1e0d2"></i><i class="a" style="left:690.4px;top:17px;width:2.5px;height:16px;background:#c6c6c6"></i><i class="a" style="left:692.9px;top:17px;width:2.1px;height:16px;background:#dddee0"></i><i class="a" style="left:689.6px;top:34px;width:1.3px;height:16px;background:#f7dca6"></i><i class="a" style="left:690.9px;top:34px;width:1.4px;height:16px;background:#9a80e0"></i><i class="a" style="left:692.3px;top:34px;width:0.7px;height:16px;background:#c4b8ef"></i><i class="a" style="left:693.0px;top:34px;width:0.6px;height:16px;background:#86bd7f"></i><i class="a" style="left:693.5px;top:34px;width:1.9px;height:16px;background:#f7dca6"></i><i class="a" style="left:689.8px;top:51px;width:0.9px;height:16px;background:#f3d193"></i><i class="a" style="left:692.4px;top:51px;width:0.9px;height:16px;background:#a58fe4"></i><i class="a" style="left:691.2px;top:51px;width:1.0px;height:16px;background:#f7dca6"></i><i class="a" style="left:690.4px;top:68px;width:0.8px;height:16px;background:#e8d6f0"></i><i class="a" style="left:690.4px;top:85px;width:0.8px;height:16px;background:#f1e0d2"></i><i class="a" style="left:693.4px;top:85px;width:0.8px;height:16px;background:#f1e0d2"></i><i class="a" style="left:722.0px;top:17px;width:3.1px;height:16px;background:#c6c6c6"></i><i class="a" style="left:725.1px;top:17px;width:2.5px;height:16px;background:#dddee0"></i><i class="a" style="left:721.2px;top:34px;width:1.3px;height:16px;background:#f7dca6"></i><i class="a" style="left:722.5px;top:34px;width:1.7px;height:16px;background:#9a80e0"></i><i class="a" style="left:724.2px;top:34px;width:0.9px;height:16px;background:#c4b8ef"></i><i class="a" style="left:725.1px;top:34px;width:0.7px;height:16px;background:#86bd7f"></i><i class="a" style="left:725.8px;top:34px;width:2.2px;height:16px;background:#f7dca6"></i><i class="a" style="left:721.4px;top:51px;width:0.9px;height:16px;background:#f3d193"></i><i class="a" style="left:724.5px;top:51px;width:0.9px;height:16px;background:#a58fe4"></i><i class="a" style="left:723.3px;top:51px;width:1.0px;height:16px;background:#f7dca6"></i><i class="a" style="left:722.0px;top:68px;width:0.8px;height:16px;background:#e8d6f0"></i><i class="a" style="left:722.0px;top:85px;width:0.8px;height:16px;background:#f1e0d2"></i><i class="a" style="left:726.0px;top:85px;width:0.8px;height:16px;background:#f1e0d2"></i><i class="a" style="left:730.0px;top:17px;width:1.9px;height:16px;background:#c6c6c6"></i><i class="a" style="left:731.9px;top:17px;width:1.7px;height:16px;background:#dddee0"></i><i class="a" style="left:729.2px;top:34px;width:1.3px;height:16px;background:#f7dca6"></i><i class="a" style="left:730.5px;top:34px;width:1.0px;height:16px;background:#9a80e0"></i><i class="a" style="left:731.5px;top:34px;width:0.5px;height:16px;background:#c4b8ef"></i><i class="a" style="left:732.1px;top:34px;width:0.4px;height:16px;background:#86bd7f"></i><i class="a" style="left:732.5px;top:34px;width:1.5px;height:16px;background:#f7dca6"></i><i class="a" style="left:729.4px;top:51px;width:0.9px;height:16px;background:#f3d193"></i><i class="a" style="left:731.5px;top:51px;width:0.9px;height:16px;background:#a58fe4"></i><i class="a" style="left:730.0px;top:68px;width:0.8px;height:16px;background:#e8d6f0"></i><i class="a" style="left:730.0px;top:85px;width:0.8px;height:16px;background:#f1e0d2"></i><i class="a" style="left:732.0px;top:85px;width:0.8px;height:16px;background:#f1e0d2"></i><i class="a" style="left:754.0px;top:17px;width:3.1px;height:16px;background:#c6c6c6"></i><i class="a" style="left:757.1px;top:17px;width:2.5px;height:16px;background:#dddee0"></i><i class="a" style="left:753.2px;top:34px;width:1.3px;height:16px;background:#f7dca6"></i><i class="a" style="left:754.5px;top:34px;width:1.7px;height:16px;background:#9a80e0"></i><i class="a" style="left:756.2px;top:34px;width:0.9px;height:16px;background:#c4b8ef"></i><i class="a" style="left:757.1px;top:34px;width:0.7px;height:16px;background:#86bd7f"></i><i class="a" style="left:757.8px;top:34px;width:2.2px;height:16px;background:#f7dca6"></i><i class="a" style="left:753.4px;top:51px;width:0.9px;height:16px;background:#f3d193"></i><i class="a" style="left:756.5px;top:51px;width:0.9px;height:16px;background:#a58fe4"></i><i class="a" style="left:755.3px;top:51px;width:1.0px;height:16px;background:#f7dca6"></i><i class="a" style="left:754.0px;top:68px;width:0.8px;height:16px;background:#e8d6f0"></i><i class="a" style="left:754.0px;top:85px;width:0.8px;height:16px;background:#f1e0d2"></i><i class="a" style="left:758.0px;top:85px;width:0.8px;height:16px;background:#f1e0d2"></i><i class="a" style="left:788.6px;top:17px;width:1.9px;height:16px;background:#c6c6c6"></i><i class="a" style="left:790.5px;top:17px;width:1.7px;height:16px;background:#dddee0"></i><i class="a" style="left:787.8px;top:34px;width:1.3px;height:16px;background:#f7dca6"></i><i class="a" style="left:789.1px;top:34px;width:1.0px;height:16px;background:#9a80e0"></i><i class="a" style="left:790.1px;top:34px;width:0.5px;height:16px;background:#c4b8ef"></i><i class="a" style="left:790.7px;top:34px;width:0.4px;height:16px;background:#86bd7f"></i><i class="a" style="left:791.1px;top:34px;width:1.5px;height:16px;background:#f7dca6"></i><i class="a" style="left:788.0px;top:51px;width:0.9px;height:16px;background:#f3d193"></i><i class="a" style="left:790.1px;top:51px;width:0.9px;height:16px;background:#a58fe4"></i><i class="a" style="left:788.6px;top:68px;width:0.8px;height:16px;background:#e8d6f0"></i><i class="a" style="left:788.6px;top:85px;width:0.8px;height:16px;background:#f1e0d2"></i><i class="a" style="left:790.6px;top:85px;width:0.8px;height:16px;background:#f1e0d2"></i><i class="a" style="left:822.0px;top:17px;width:1.2px;height:16px;background:#c6c6c6"></i><i class="a" style="left:823.2px;top:17px;width:1.4px;height:16px;background:#dddee0"></i><i class="a" style="left:821.2px;top:34px;width:1.3px;height:16px;background:#f7dca6"></i><i class="a" style="left:822.5px;top:34px;width:0.7px;height:16px;background:#9a80e0"></i><i class="a" style="left:823.2px;top:34px;width:0.4px;height:16px;background:#c4b8ef"></i><i class="a" style="left:823.5px;top:34px;width:0.3px;height:16px;background:#86bd7f"></i><i class="a" style="left:823.8px;top:34px;width:1.2px;height:16px;background:#f7dca6"></i><i class="a" style="left:821.4px;top:51px;width:0.9px;height:16px;background:#f3d193"></i><i class="a" style="left:823.0px;top:51px;width:0.9px;height:16px;background:#a58fe4"></i><i class="a" style="left:822.0px;top:68px;width:0.8px;height:16px;background:#e8d6f0"></i><i class="a" style="left:822.0px;top:85px;width:0.8px;height:16px;background:#f1e0d2"></i><i class="a" style="left:823.0px;top:85px;width:0.8px;height:16px;background:#f1e0d2"></i><i class="a" style="left:852.6px;top:17px;width:1.9px;height:16px;background:#c6c6c6"></i><i class="a" style="left:854.5px;top:17px;width:1.7px;height:16px;background:#dddee0"></i><i class="a" style="left:851.8px;top:34px;width:1.3px;height:16px;background:#f7dca6"></i><i class="a" style="left:853.1px;top:34px;width:1.0px;height:16px;background:#9a80e0"></i><i class="a" style="left:854.1px;top:34px;width:0.5px;height:16px;background:#c4b8ef"></i><i class="a" style="left:854.7px;top:34px;width:0.4px;height:16px;background:#86bd7f"></i><i class="a" style="left:855.1px;top:34px;width:1.5px;height:16px;background:#f7dca6"></i><i class="a" style="left:852.0px;top:51px;width:0.9px;height:16px;background:#f3d193"></i><i class="a" style="left:854.1px;top:51px;width:0.9px;height:16px;background:#a58fe4"></i><i class="a" style="left:852.6px;top:68px;width:0.8px;height:16px;background:#e8d6f0"></i><i class="a" style="left:852.6px;top:85px;width:0.8px;height:16px;background:#f1e0d2"></i><i class="a" style="left:854.6px;top:85px;width:0.8px;height:16px;background:#f1e0d2"></i><i class="a" style="left:886.0px;top:17px;width:1.2px;height:16px;background:#c6c6c6"></i><i class="a" style="left:887.2px;top:17px;width:1.4px;height:16px;background:#dddee0"></i><i class="a" style="left:885.2px;top:34px;width:1.3px;height:16px;background:#f7dca6"></i><i class="a" style="left:886.5px;top:34px;width:0.7px;height:16px;background:#9a80e0"></i><i class="a" style="left:887.2px;top:34px;width:0.4px;height:16px;background:#c4b8ef"></i><i class="a" style="left:887.5px;top:34px;width:0.3px;height:16px;background:#86bd7f"></i><i class="a" style="left:887.8px;top:34px;width:1.2px;height:16px;background:#f7dca6"></i><i class="a" style="left:885.4px;top:51px;width:0.9px;height:16px;background:#f3d193"></i><i class="a" style="left:887.0px;top:51px;width:0.9px;height:16px;background:#a58fe4"></i><i class="a" style="left:886.0px;top:68px;width:0.8px;height:16px;background:#e8d6f0"></i><i class="a" style="left:886.0px;top:85px;width:0.8px;height:16px;background:#f1e0d2"></i><i class="a" style="left:887.0px;top:85px;width:0.8px;height:16px;background:#f1e0d2"></i><i class="a" style="left:899.6px;top:17px;width:4.3px;height:16px;background:#c6c6c6"></i><i class="a" style="left:903.9px;top:17px;width:3.3px;height:16px;background:#dddee0"></i><i class="a" style="left:899.6px;top:34px;width:4.2px;height:16px;background:#f0c05c"></i><i class="a" style="left:903.8px;top:34px;width:3.8px;height:16px;background:#f7dca6"></i><i class="a" style="left:899.6px;top:51px;width:0.8px;height:16px;background:#f3d193"></i><i class="a" style="left:919.0px;top:17px;width:1.9px;height:16px;background:#c6c6c6"></i><i class="a" style="left:920.9px;top:17px;width:1.7px;height:16px;background:#dddee0"></i><i class="a" style="left:918.2px;top:34px;width:1.3px;height:16px;background:#f7dca6"></i><i class="a" style="left:919.5px;top:34px;width:1.0px;height:16px;background:#9a80e0"></i><i class="a" style="left:920.5px;top:34px;width:0.5px;height:16px;background:#c4b8ef"></i><i class="a" style="left:921.1px;top:34px;width:0.4px;height:16px;background:#86bd7f"></i><i class="a" style="left:921.5px;top:34px;width:1.5px;height:16px;background:#f7dca6"></i><i class="a" style="left:918.4px;top:51px;width:0.9px;height:16px;background:#f3d193"></i><i class="a" style="left:920.5px;top:51px;width:0.9px;height:16px;background:#a58fe4"></i><i class="a" style="left:919.0px;top:68px;width:0.8px;height:16px;background:#f3d193"></i><i class="a" style="left:919.0px;top:85px;width:0.8px;height:16px;background:#f1e0d2"></i><i class="a" style="left:921.0px;top:85px;width:0.8px;height:16px;background:#f1e0d2"></i><i class="a" style="left:593.0px;top:102px;width:0.8px;height:16px;background:#efdccd"></i><i class="a" style="left:612.3px;top:102px;width:0.8px;height:16px;background:#cdbfe6"></i><i class="a" style="left:615.0px;top:102px;width:0.8px;height:16px;background:#efdccd"></i><i class="a" style="left:680.0px;top:102px;width:0.8px;height:16px;background:#dcc9ec"></i><i class="a" style="left:697.4px;top:102px;width:0.8px;height:16px;background:#efdccd"></i><i class="a" style="left:702.0px;top:102px;width:0.8px;height:16px;background:#f3d193"></i><i class="a" style="left:714.0px;top:102px;width:0.8px;height:16px;background:#efdccd"></i><i class="a" style="left:722.0px;top:102px;width:0.8px;height:16px;background:#efdccd"></i><i class="a" style="left:724.0px;top:102px;width:0.8px;height:16px;background:#f3e6d4"></i><i class="a" style="left:730.0px;top:102px;width:0.8px;height:16px;background:#efdccd"></i><i class="a" style="left:747.0px;top:102px;width:0.8px;height:16px;background:#efdccd"></i><i class="a" style="left:816.0px;top:102px;width:0.8px;height:16px;background:#f1e0d2"></i><i class="a" style="left:862.0px;top:102px;width:0.8px;height:16px;background:#f1e0d2"></i><i class="a" style="left:899.0px;top:102px;width:0.8px;height:16px;background:#f0c05c"></i><i class="a" style="left:612.3px;top:119px;width:0.8px;height:16px;background:#e6dcef"></i><i class="a" style="left:657.5px;top:119px;width:0.8px;height:16px;background:#e6dcef"></i><i class="a" style="left:899.0px;top:119px;width:0.8px;height:16px;background:#f7dca6"></i><i class="a" style="left:658.0px;top:136px;width:0.8px;height:16px;background:#f3e6d4"></i>
<div class="gl" style="left:25px;top:0px;height:191px"></div><div class="gl" style="left:123px;top:0px;height:191px"></div><div class="gl" style="left:221px;top:0px;height:191px"></div><div class="gl" style="left:318px;top:0px;height:191px"></div><div class="gl" style="left:416px;top:0px;height:191px"></div><div class="gl" style="left:514px;top:0px;height:191px"></div><div class="gl" style="left:611px;top:0px;height:191px"></div><div class="gl" style="left:709px;top:0px;height:191px"></div><div class="gl" style="left:807px;top:0px;height:191px"></div><div class="gl" style="left:904px;top:0px;height:191px"></div>
<div class="a" style="left:166px;top:15px;width:208px;height:20px;border:2px solid #e0142c;background:#b9bfcc"></div>
<div class="a" style="left:265px;top:17px;width:107px;height:16px;background:repeating-linear-gradient(135deg,rgba(226,70,90,.55) 0,rgba(226,70,90,.55) 1px,transparent 1px,transparent 3.2px)"></div>
<svg width="8" height="8" style="left:364px;top:17px" viewBox="0 0 8 8"><path d="M0 0H8V8Z" fill="#e0142c"/></svg>
<span class="tl" style="left:173px;top:17.5px;color:#333;font-size:11px">Task</span>
<div class="gl" style="left:221px;top:17px;height:16px"></div><div class="gl" style="left:318px;top:17px;height:16px"></div>
<div class="a" style="left:371px;top:0;width:1.4px;height:191px;background:repeating-linear-gradient(180deg,#4e93d8 0,#4e93d8 4.5px,transparent 4.5px,transparent 7px)"></div>
<div class="a" style="left:460.8px;top:0;width:1.5px;height:191px;background:repeating-linear-gradient(180deg,#1d5c32 0,#1d5c32 5.5px,transparent 5.5px,transparent 8px)"></div>
<div class="a" style="left:0;top:0;width:2px;height:191px;background:#1a73e8"></div>
</div>
<div class="sb" style="top:350px;height:191px"><div class="sbt" style="top:31px;height:30px"></div><svg width="8" height="4" style="left:4px;top:7px" viewBox="0 0 8 4"><path d="M0 4L4 0L8 4Z" fill="#a0a0a0"/></svg><svg width="8" height="4" style="left:4px;top:180px" viewBox="0 0 8 4"><path d="M0 0L4 4L8 0Z" fill="#505050"/></svg></div>
<div id="stabs" class="a"></div>
<span class="st" style="left:10px;color:#333">Summary</span>
<span class="st" style="left:81px">Bottom-Up</span>
<span class="st" style="left:157px">Call Tree</span>
<span class="st" style="left:223px">Event Log</span>
<div class="a" style="left:0;top:566px;width:71px;height:2px;background:#1a73e8"></div>
<div class="a" style="left:8px;top:579px;width:12px;height:12px;background:#c9c9c9"></div>
<span class="sm" style="left:25px;top:577px;font-size:13px;line-height:15px;color:#5a5a5a">Task</span>
<div class="a" style="left:0;top:600px;width:935px;height:26px;background:#fce8e8"></div>
<span class="sm" style="left:10px;top:603px;color:#e53935">Warning</span>
<span class="sm" style="left:64px;top:603px;color:#5a5a5a"><span style="color:#1a73e8;text-decoration:underline">Long task</span> took 104.34 ms.</span>
<span class="sm" style="left:10px;top:629px">Total Time</span><span class="sm" style="left:76px;top:629px">104.34 ms</span>
<span class="sm" style="left:10px;top:655px">Self Time</span><span class="sm" style="left:70px;top:655px">83 µs</span>
<div class="a" style="left:0;top:683px;width:935px;height:1px;background:#cdcdd0"></div>
<span class="sm" style="left:8px;top:692px;font-size:13px;line-height:15px">Aggregated Time</span>
<span class="sm" style="left:159px;top:727px;width:60px;text-align:right">0 ms</span>
<div class="sw" style="left:229px;top:728px;background:#c9c9c9"></div>
<span class="sm" style="left:251px;top:727px">System (self)</span>
<span class="sm" style="left:159px;top:752px;width:60px;text-align:right">4 ms</span>
<div class="sw" style="left:229px;top:753px;background:#dedede"></div>
<span class="sm" style="left:251px;top:752px">System (children)</span>
<span class="sm" style="left:159px;top:777px;width:60px;text-align:right">1 ms</span>
<div class="sw" style="left:229px;top:778px;background:#8cb8ea"></div>
<span class="sm" style="left:251px;top:777px">Loading</span>
<span class="sm" style="left:159px;top:802px;width:60px;text-align:right">90 ms</span>
<div class="sw" style="left:229px;top:803px;background:#f6d089"></div>
<span class="sm" style="left:251px;top:802px">Scripting</span>
<span class="sm" style="left:159px;top:827px;width:60px;text-align:right">9 ms</span>
<div class="sw" style="left:229px;top:828px;background:#ab99e8"></div>
<span class="sm" style="left:251px;top:827px">Rendering</span>
<svg width="120" height="120" style="left:5px;top:737px" viewBox="5 737 120 120"><path d="M65.00 742.00A55 55 0 0 1 78.12 743.59L73.11 763.98A34 34 0 0 0 65.00 763.00Z" fill="#dedede"/><path d="M78.12 743.59A55 55 0 0 1 81.26 744.46L75.05 764.52A34 34 0 0 0 73.11 763.98Z" fill="#8cb8ea"/><path d="M81.26 744.46A55 55 0 1 1 36.26 750.10L47.24 768.01A34 34 0 1 0 75.05 764.52Z" fill="#f6d089"/><path d="M36.26 750.10A55 55 0 0 1 65.00 742.00L65.00 763.00A34 34 0 0 0 47.24 768.01Z" fill="#ab99e8"/></svg>
<span class="sm" style="left:35px;top:790px;width:60px;text-align:center;font-weight:bold;color:#555">104 ms</span>
<div class="sb" style="top:569px;height:271px"><div class="sbt" style="top:15px;height:203px"></div><svg width="8" height="4" style="left:4px;top:7px" viewBox="0 0 8 4"><path d="M0 4L4 0L8 4Z" fill="#a0a0a0"/></svg><svg width="8" height="4" style="left:4px;top:260px" viewBox="0 0 8 4"><path d="M0 0L4 4L8 0Z" fill="#505050"/></svg></div>
<div id="foot" class="a"></div>
<span class="sm" style="left:8px;top:847px;color:#333">Total blocking time: 0.00ms</span>
<span class="sm" style="left:159px;top:847px;color:#333;text-decoration:underline">Learn more</span>
</body></html>
